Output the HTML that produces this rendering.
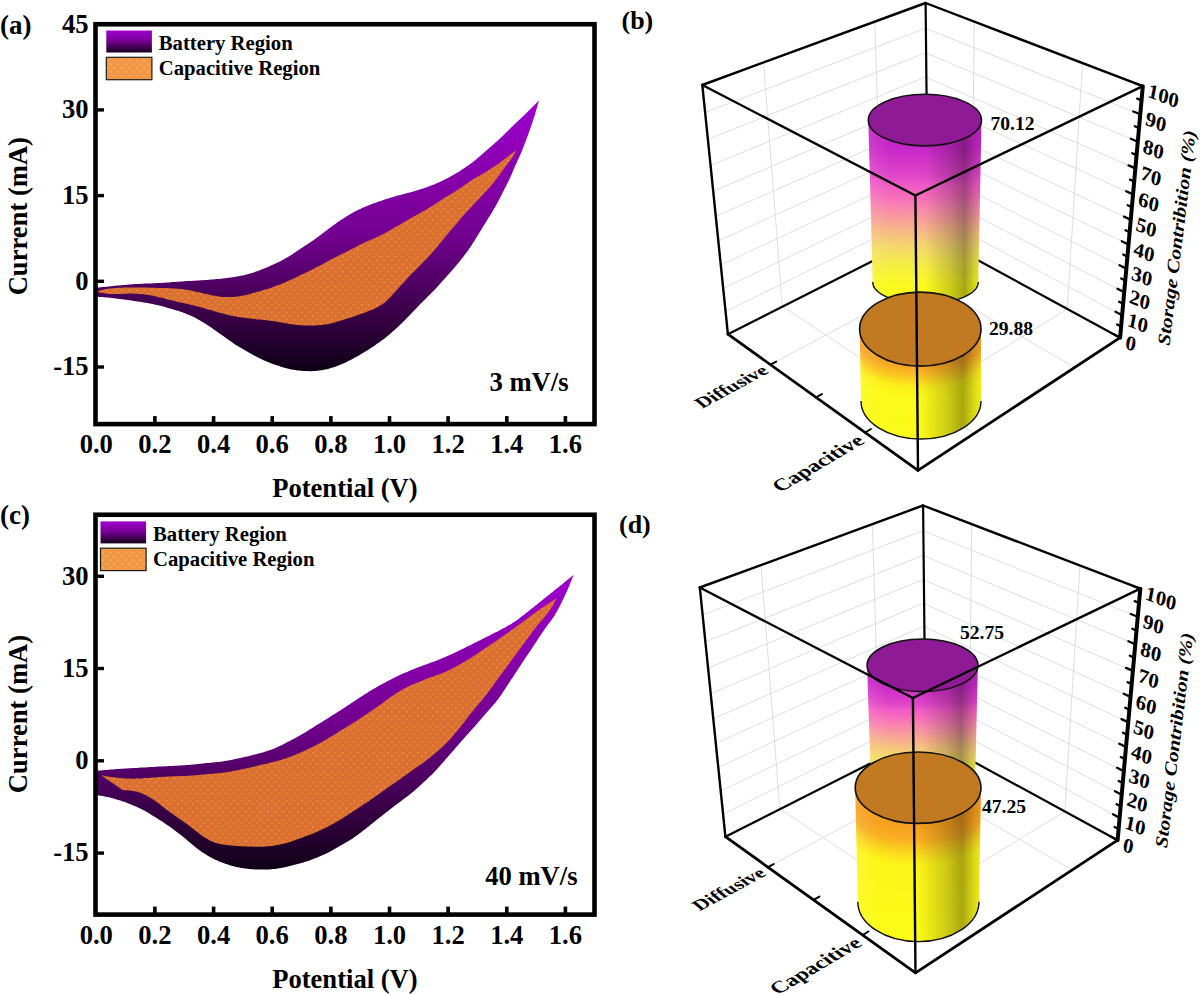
<!DOCTYPE html>
<html><head><meta charset="utf-8">
<style>
  html,body{margin:0;padding:0;background:#fff;}
  svg{display:block;}
  text{font-family:"Liberation Serif",serif;font-weight:bold;fill:#000;}
  .tk{font-size:26.6px;}
  .pl{font-size:27px;}
  .pl2{font-size:26px;}
  .lgt{font-size:20.7px;}
  .vl{font-size:19.6px;}
  .al{font-size:20.3px;}
  .at{font-size:21.2px;font-style:italic;}
  .cl{font-size:20.8px;}
</style></head><body>
<svg width="1200" height="995" viewBox="0 0 1200 995">
<rect width="1200" height="995" fill="#fff"/>

<defs>
  <linearGradient id="pga" gradientUnits="userSpaceOnUse" x1="0" y1="100" x2="0" y2="371.5">
    <stop offset="0" stop-color="#a000cf"/>
    <stop offset="0.5" stop-color="#72008f"/>
    <stop offset="0.85" stop-color="#2d0038"/>
    <stop offset="1" stop-color="#0e0016"/>
  </linearGradient>
  <linearGradient id="pgc" gradientUnits="userSpaceOnUse" x1="0" y1="575" x2="0" y2="870.5">
    <stop offset="0" stop-color="#a000cf"/>
    <stop offset="0.5" stop-color="#72008f"/>
    <stop offset="0.85" stop-color="#2d0038"/>
    <stop offset="1" stop-color="#0e0016"/>
  </linearGradient>
  <linearGradient id="lg" x1="0" y1="0" x2="0" y2="1">
    <stop offset="0" stop-color="#a000d0"/>
    <stop offset="0.45" stop-color="#7a0098"/>
    <stop offset="1" stop-color="#16001c"/>
  </linearGradient>
  <pattern id="dots" patternUnits="userSpaceOnUse" width="7.5" height="7.4">
    <circle cx="1.8" cy="1.6" r="0.75" fill="#f3bf1e" fill-opacity="0.85"/>
    <circle cx="5.55" cy="5.3" r="0.75" fill="#f3bf1e" fill-opacity="0.85"/>
  </pattern>
  <pattern id="dots2" patternUnits="userSpaceOnUse" width="7.5" height="7.4">
    <circle cx="1.8" cy="1.6" r="0.8" fill="#f7d21c" fill-opacity="0.9"/>
    <circle cx="5.55" cy="5.3" r="0.8" fill="#f7d21c" fill-opacity="0.9"/>
  </pattern>
  <linearGradient id="cyd" x1="0" y1="0" x2="0" y2="1">
    <stop offset="0" stop-color="#c826cc"/>
    <stop offset="0.22" stop-color="#e84fc4"/>
    <stop offset="0.42" stop-color="#f888b4"/>
    <stop offset="0.62" stop-color="#f8bb90"/>
    <stop offset="0.82" stop-color="#f6e45a"/>
    <stop offset="1" stop-color="#f8f828"/>
  </linearGradient>
  <linearGradient id="cyc" x1="0" y1="0" x2="0" y2="1">
    <stop offset="0" stop-color="#f89a20"/>
    <stop offset="0.25" stop-color="#f8b424"/>
    <stop offset="0.5" stop-color="#f8e628"/>
    <stop offset="1" stop-color="#f8f820"/>
  </linearGradient>
  <linearGradient id="shd" x1="0" y1="0" x2="1" y2="0">
    <stop offset="0" stop-color="#fff" stop-opacity="0.10"/>
    <stop offset="0.2" stop-color="#fff" stop-opacity="0.0"/>
    <stop offset="0.5" stop-color="#000" stop-opacity="0.0"/>
    <stop offset="0.72" stop-color="#000" stop-opacity="0.18"/>
    <stop offset="0.85" stop-color="#000" stop-opacity="0.33"/>
    <stop offset="0.95" stop-color="#000" stop-opacity="0.12"/>
    <stop offset="1" stop-color="#000" stop-opacity="0.05"/>
  </linearGradient>
</defs>
<path d="M95.0,287.8 L97.0,287.6 L99.0,287.5 L101.0,287.3 L103.0,287.1 L105.0,286.9 L107.0,286.7 L109.0,286.5 L110.9,286.2 L112.9,286.0 L114.9,285.8 L116.9,285.6 L118.9,285.4 L120.9,285.3 L122.9,285.1 L124.9,284.9 L126.9,284.7 L128.9,284.6 L130.9,284.4 L132.9,284.3 L134.9,284.1 L136.9,284.0 L138.9,283.9 L140.9,283.8 L142.9,283.7 L144.9,283.6 L146.9,283.5 L148.9,283.4 L150.9,283.4 L152.9,283.3 L154.9,283.2 L156.9,283.1 L158.9,283.0 L160.9,282.9 L162.9,282.8 L164.9,282.7 L166.9,282.5 L168.9,282.4 L170.9,282.3 L172.9,282.1 L174.9,282.0 L176.9,281.8 L178.9,281.7 L180.9,281.5 L182.9,281.4 L184.9,281.3 L186.9,281.1 L188.9,281.0 L190.9,280.9 L192.9,280.8 L194.9,280.7 L196.9,280.6 L198.9,280.4 L200.9,280.3 L202.9,280.2 L204.9,280.1 L206.9,279.9 L208.9,279.8 L210.9,279.6 L212.9,279.5 L214.9,279.3 L216.9,279.1 L218.9,278.9 L220.8,278.7 L222.8,278.5 L224.8,278.2 L226.8,278.0 L228.8,277.7 L230.8,277.5 L232.8,277.2 L234.7,276.9 L236.7,276.5 L238.7,276.2 L240.6,275.8 L242.6,275.4 L244.6,275.0 L246.5,274.5 L248.4,274.0 L250.3,273.4 L252.3,272.9 L254.2,272.2 L256.0,271.6 L257.9,270.9 L259.8,270.2 L261.7,269.5 L263.5,268.7 L265.4,268.0 L267.2,267.2 L269.1,266.4 L270.9,265.6 L272.7,264.8 L274.5,264.0 L276.4,263.1 L278.2,262.3 L280.0,261.4 L281.7,260.5 L283.5,259.5 L285.2,258.5 L287.0,257.5 L288.7,256.5 L290.4,255.4 L292.1,254.4 L293.7,253.3 L295.4,252.2 L297.1,251.0 L298.7,249.9 L300.4,248.8 L302.1,247.7 L303.8,246.6 L305.4,245.5 L307.1,244.4 L308.8,243.3 L310.5,242.2 L312.1,241.1 L313.8,240.0 L315.4,238.8 L317.0,237.6 L318.6,236.5 L320.2,235.3 L321.8,234.0 L323.4,232.8 L325.0,231.6 L326.6,230.4 L328.2,229.1 L329.8,227.9 L331.4,226.7 L333.0,225.5 L334.6,224.4 L336.2,223.2 L337.9,222.1 L339.5,220.9 L341.2,219.8 L342.9,218.7 L344.6,217.7 L346.3,216.6 L348.0,215.6 L349.7,214.5 L351.4,213.5 L353.2,212.6 L354.9,211.6 L356.7,210.7 L358.5,209.8 L360.3,208.9 L362.1,208.1 L363.9,207.3 L365.8,206.5 L367.6,205.7 L369.5,205.0 L371.4,204.3 L373.2,203.6 L375.1,202.9 L377.0,202.2 L378.9,201.6 L380.8,200.9 L382.7,200.2 L384.6,199.6 L386.5,199.0 L388.4,198.4 L390.3,197.8 L392.2,197.2 L394.2,196.7 L396.1,196.1 L398.0,195.6 L400.0,195.1 L401.9,194.6 L403.8,194.1 L405.8,193.6 L407.7,193.0 L409.6,192.5 L411.6,192.0 L413.5,191.4 L415.4,190.8 L417.3,190.3 L419.2,189.7 L421.1,189.1 L423.1,188.5 L425.0,187.8 L426.8,187.2 L428.7,186.5 L430.6,185.8 L432.5,185.1 L434.3,184.4 L436.2,183.6 L438.0,182.8 L439.8,181.9 L441.6,181.1 L443.4,180.2 L445.2,179.3 L447.0,178.4 L448.8,177.4 L450.5,176.4 L452.3,175.5 L454.0,174.5 L455.7,173.5 L457.4,172.4 L459.2,171.4 L460.9,170.3 L462.5,169.3 L464.2,168.2 L465.9,167.1 L467.5,165.9 L469.2,164.8 L470.8,163.6 L472.4,162.4 L473.9,161.1 L475.5,159.9 L477.0,158.6 L478.6,157.3 L480.1,156.0 L481.6,154.7 L483.1,153.4 L484.6,152.1 L486.1,150.7 L487.6,149.4 L489.1,148.1 L490.6,146.8 L492.2,145.5 L493.7,144.2 L495.2,142.8 L496.7,141.5 L498.2,140.2 L499.6,138.8 L501.1,137.5 L502.6,136.1 L504.0,134.7 L505.4,133.3 L506.8,131.9 L508.3,130.5 L509.7,129.0 L511.1,127.6 L512.5,126.2 L514.0,124.8 L515.4,123.5 L516.9,122.1 L518.3,120.7 L519.8,119.3 L521.3,118.0 L522.7,116.6 L524.2,115.2 L525.6,113.8 L527.0,112.4 L528.4,111.0 L529.9,109.6 L531.3,108.2 L532.7,106.7 L534.1,105.3 L535.5,103.9 L537.0,102.5 L538.4,101.1 L539.1,100.4 L539.1,100.4 L538.5,102.3 L537.9,104.2 L537.4,106.1 L536.8,108.1 L536.3,110.0 L535.7,111.9 L535.1,113.8 L534.6,115.7 L534.0,117.6 L533.4,119.5 L532.7,121.4 L532.1,123.3 L531.4,125.2 L530.8,127.1 L530.1,129.0 L529.4,130.9 L528.8,132.8 L528.1,134.7 L527.4,136.6 L526.7,138.4 L526.0,140.3 L525.3,142.2 L524.6,144.0 L523.9,145.9 L523.2,147.8 L522.4,149.6 L521.7,151.5 L520.9,153.3 L520.1,155.2 L519.3,157.0 L518.5,158.8 L517.6,160.6 L516.8,162.4 L516.0,164.3 L515.1,166.1 L514.3,167.9 L513.5,169.7 L512.8,171.6 L512.0,173.4 L511.2,175.3 L510.4,177.1 L509.5,178.9 L508.7,180.7 L507.8,182.5 L506.9,184.3 L506.0,186.1 L505.1,187.8 L504.2,189.6 L503.3,191.4 L502.4,193.2 L501.5,195.0 L500.6,196.8 L499.7,198.5 L498.7,200.3 L497.8,202.1 L496.9,203.9 L495.9,205.6 L494.9,207.4 L493.9,209.1 L492.9,210.8 L491.9,212.5 L490.8,214.2 L489.8,215.9 L488.7,217.6 L487.6,219.3 L486.6,221.0 L485.5,222.7 L484.5,224.4 L483.4,226.1 L482.4,227.8 L481.3,229.5 L480.3,231.2 L479.2,232.9 L478.2,234.6 L477.1,236.3 L476.1,238.0 L475.1,239.7 L474.0,241.4 L472.9,243.1 L471.9,244.8 L470.8,246.5 L469.6,248.1 L468.5,249.8 L467.3,251.4 L466.1,253.0 L464.9,254.6 L463.7,256.2 L462.5,257.8 L461.2,259.3 L460.0,260.9 L458.7,262.5 L457.5,264.0 L456.2,265.5 L454.9,267.1 L453.6,268.6 L452.3,270.1 L451.0,271.6 L449.7,273.1 L448.4,274.6 L447.0,276.1 L445.7,277.6 L444.4,279.1 L443.0,280.6 L441.7,282.1 L440.3,283.6 L439.0,285.0 L437.6,286.5 L436.3,288.0 L434.9,289.4 L433.5,290.9 L432.1,292.3 L430.7,293.7 L429.3,295.1 L427.9,296.5 L426.4,298.0 L425.0,299.4 L423.6,300.8 L422.2,302.2 L420.8,303.6 L419.4,305.1 L418.0,306.5 L416.6,307.9 L415.2,309.4 L413.8,310.8 L412.4,312.3 L411.1,313.7 L409.7,315.2 L408.3,316.6 L406.9,318.0 L405.5,319.5 L404.1,320.9 L402.7,322.3 L401.3,323.7 L399.8,325.1 L398.4,326.5 L396.9,327.8 L395.4,329.2 L393.9,330.5 L392.4,331.8 L390.9,333.2 L389.4,334.5 L387.9,335.7 L386.3,337.0 L384.8,338.2 L383.2,339.4 L381.6,340.6 L380.0,341.8 L378.3,343.0 L376.7,344.1 L375.1,345.3 L373.4,346.4 L371.7,347.5 L370.1,348.6 L368.4,349.7 L366.7,350.7 L365.0,351.8 L363.3,352.8 L361.6,353.8 L359.8,354.9 L358.1,355.9 L356.4,356.8 L354.6,357.8 L352.9,358.8 L351.1,359.7 L349.3,360.6 L347.5,361.5 L345.7,362.4 L343.9,363.2 L342.1,364.0 L340.2,364.8 L338.4,365.5 L336.5,366.2 L334.6,366.9 L332.7,367.5 L330.8,368.1 L328.9,368.7 L327.0,369.2 L325.0,369.6 L323.1,370.0 L321.1,370.3 L319.2,370.6 L317.2,370.8 L315.2,371.0 L313.2,371.1 L311.2,371.2 L309.2,371.2 L307.2,371.1 L305.2,371.1 L303.2,371.0 L301.2,370.8 L299.2,370.6 L297.3,370.4 L295.3,370.1 L293.3,369.8 L291.4,369.4 L289.4,369.0 L287.5,368.5 L285.5,368.0 L283.6,367.5 L281.7,366.9 L279.8,366.3 L277.9,365.7 L276.0,365.0 L274.1,364.4 L272.3,363.7 L270.4,363.0 L268.5,362.2 L266.7,361.5 L264.8,360.7 L263.0,359.9 L261.2,359.0 L259.4,358.2 L257.6,357.3 L255.9,356.3 L254.1,355.4 L252.4,354.4 L250.6,353.4 L248.9,352.4 L247.1,351.4 L245.4,350.5 L243.7,349.5 L241.9,348.5 L240.2,347.5 L238.5,346.5 L236.8,345.4 L235.1,344.4 L233.4,343.3 L231.8,342.1 L230.1,341.0 L228.5,339.8 L226.9,338.7 L225.2,337.5 L223.6,336.3 L222.0,335.2 L220.3,334.0 L218.7,332.9 L217.1,331.7 L215.4,330.6 L213.8,329.4 L212.2,328.3 L210.5,327.1 L208.9,326.0 L207.2,324.9 L205.5,323.8 L203.9,322.7 L202.2,321.7 L200.4,320.7 L198.7,319.7 L196.9,318.7 L195.2,317.8 L193.4,316.9 L191.6,316.1 L189.8,315.2 L187.9,314.4 L186.1,313.7 L184.2,313.0 L182.4,312.3 L180.5,311.7 L178.6,311.0 L176.6,310.5 L174.7,309.9 L172.8,309.3 L170.9,308.8 L169.0,308.2 L167.0,307.7 L165.1,307.1 L163.2,306.6 L161.3,306.1 L159.3,305.6 L157.4,305.1 L155.4,304.7 L153.5,304.2 L151.5,303.8 L149.6,303.5 L147.6,303.1 L145.6,302.8 L143.6,302.4 L141.7,302.1 L139.7,301.8 L137.7,301.5 L135.7,301.2 L133.8,300.9 L131.8,300.6 L129.8,300.3 L127.8,300.0 L125.8,299.8 L123.9,299.5 L121.9,299.2 L119.9,299.0 L117.9,298.7 L115.9,298.5 L113.9,298.3 L111.9,298.0 L110.0,297.8 L108.0,297.6 L106.0,297.4 L104.0,297.2 L102.0,297.1 L100.0,296.9 L98.0,296.8 L96.0,296.7 L95.0,296.6 Z" fill="url(#pga)"/>
<path d="M97.5,291.3 L99.4,290.8 L101.3,290.2 L103.3,289.7 L105.2,289.3 L107.2,288.9 L109.1,288.6 L111.1,288.4 L113.1,288.2 L115.1,288.0 L117.1,287.9 L119.1,287.8 L121.1,287.7 L123.1,287.6 L125.1,287.6 L127.1,287.6 L129.1,287.5 L131.1,287.5 L133.1,287.5 L135.1,287.5 L137.1,287.5 L139.1,287.5 L141.1,287.5 L143.1,287.6 L145.1,287.6 L147.1,287.6 L149.1,287.7 L151.1,287.7 L153.1,287.8 L155.1,287.8 L157.1,287.9 L159.1,287.9 L161.1,288.0 L163.2,288.0 L165.2,288.1 L167.2,288.1 L169.2,288.2 L171.2,288.3 L173.2,288.4 L175.2,288.5 L177.2,288.7 L179.1,288.8 L181.1,289.0 L183.1,289.3 L185.1,289.5 L187.1,289.8 L189.0,290.2 L191.0,290.6 L193.0,291.0 L194.9,291.4 L196.9,291.9 L198.8,292.3 L200.8,292.8 L202.7,293.2 L204.7,293.7 L206.6,294.1 L208.6,294.6 L210.5,295.0 L212.5,295.4 L214.5,295.8 L216.4,296.1 L218.4,296.4 L220.4,296.7 L222.4,296.9 L224.4,297.0 L226.3,297.1 L228.3,297.1 L230.3,297.1 L232.3,297.0 L234.3,296.9 L236.3,296.6 L238.3,296.4 L240.2,296.1 L242.2,295.7 L244.2,295.3 L246.1,294.9 L248.1,294.4 L250.0,293.9 L251.9,293.4 L253.9,292.8 L255.8,292.3 L257.7,291.8 L259.7,291.2 L261.6,290.7 L263.5,290.1 L265.4,289.6 L267.3,289.0 L269.2,288.4 L271.1,287.7 L273.0,287.0 L274.9,286.4 L276.8,285.6 L278.6,284.9 L280.5,284.2 L282.4,283.4 L284.2,282.7 L286.1,281.9 L287.9,281.1 L289.7,280.3 L291.6,279.5 L293.4,278.6 L295.2,277.8 L297.0,276.9 L298.8,276.0 L300.6,275.1 L302.4,274.3 L304.2,273.4 L306.0,272.5 L307.8,271.7 L309.6,270.8 L311.4,269.9 L313.2,269.0 L315.0,268.1 L316.8,267.2 L318.5,266.3 L320.3,265.3 L322.1,264.4 L323.8,263.4 L325.6,262.4 L327.3,261.5 L329.1,260.6 L330.9,259.6 L332.7,258.7 L334.5,257.8 L336.2,256.9 L338.0,256.0 L339.8,255.1 L341.6,254.2 L343.4,253.3 L345.2,252.4 L347.0,251.5 L348.8,250.6 L350.6,249.7 L352.3,248.8 L354.1,247.9 L355.9,246.9 L357.7,246.0 L359.5,245.1 L361.3,244.2 L363.1,243.3 L364.9,242.5 L366.7,241.7 L368.5,240.8 L370.4,240.0 L372.2,239.3 L374.0,238.5 L375.9,237.7 L377.7,236.8 L379.5,236.0 L381.3,235.1 L383.0,234.2 L384.8,233.2 L386.5,232.2 L388.3,231.2 L390.0,230.3 L391.8,229.3 L393.5,228.3 L395.2,227.3 L397.0,226.3 L398.7,225.2 L400.4,224.2 L402.2,223.2 L403.9,222.2 L405.6,221.2 L407.3,220.2 L409.1,219.2 L410.8,218.2 L412.6,217.2 L414.3,216.2 L416.1,215.2 L417.8,214.3 L419.6,213.3 L421.3,212.3 L423.1,211.3 L424.8,210.4 L426.5,209.4 L428.3,208.4 L430.0,207.3 L431.7,206.3 L433.4,205.2 L435.0,204.1 L436.7,203.0 L438.4,201.9 L440.1,200.8 L441.7,199.7 L443.4,198.7 L445.1,197.6 L446.9,196.6 L448.6,195.6 L450.3,194.5 L452.0,193.5 L453.7,192.4 L455.4,191.3 L457.0,190.2 L458.7,189.1 L460.4,188.0 L462.0,186.9 L463.7,185.7 L465.3,184.6 L467.0,183.5 L468.6,182.3 L470.3,181.2 L472.0,180.1 L473.6,179.0 L475.3,178.0 L477.1,177.0 L478.8,176.0 L480.5,175.0 L482.3,174.0 L484.0,173.0 L485.7,171.9 L487.4,170.9 L489.1,169.8 L490.8,168.8 L492.5,167.7 L494.2,166.6 L495.8,165.5 L497.5,164.4 L499.1,163.2 L500.7,162.0 L502.3,160.8 L503.9,159.6 L505.5,158.4 L507.1,157.2 L508.7,155.9 L510.2,154.7 L511.8,153.5 L513.4,152.2 L515.0,151.0 L516.6,149.8 L516.6,149.8 L515.7,151.6 L514.7,153.3 L513.8,155.0 L512.7,156.7 L511.6,158.3 L510.5,160.0 L509.3,161.5 L508.1,163.1 L506.8,164.7 L505.6,166.3 L504.5,167.9 L503.3,169.5 L502.1,171.2 L501.0,172.8 L499.8,174.4 L498.6,176.0 L497.4,177.6 L496.2,179.2 L495.0,180.8 L493.7,182.3 L492.5,183.9 L491.1,185.4 L489.8,186.9 L488.5,188.4 L487.2,189.9 L485.8,191.4 L484.5,192.8 L483.1,194.3 L481.8,195.8 L480.4,197.3 L479.0,198.7 L477.7,200.2 L476.3,201.6 L474.9,203.1 L473.5,204.5 L472.2,206.0 L470.8,207.4 L469.4,208.9 L468.1,210.4 L466.7,211.8 L465.4,213.3 L464.0,214.8 L462.7,216.3 L461.4,217.8 L460.1,219.3 L458.8,220.9 L457.6,222.4 L456.3,223.9 L455.0,225.5 L453.7,227.0 L452.4,228.5 L451.1,230.0 L449.8,231.5 L448.5,233.0 L447.2,234.6 L445.9,236.1 L444.6,237.6 L443.3,239.2 L442.0,240.7 L440.8,242.3 L439.5,243.8 L438.2,245.4 L437.0,246.9 L435.7,248.4 L434.4,249.9 L433.0,251.4 L431.7,252.9 L430.4,254.4 L429.1,255.9 L427.7,257.4 L426.4,258.9 L425.0,260.3 L423.6,261.8 L422.2,263.2 L420.8,264.7 L419.4,266.1 L418.0,267.5 L416.6,268.9 L415.1,270.3 L413.7,271.7 L412.3,273.1 L410.9,274.5 L409.6,276.0 L408.2,277.4 L406.8,278.9 L405.5,280.4 L404.2,281.9 L402.8,283.4 L401.5,284.8 L400.1,286.3 L398.8,287.8 L397.5,289.3 L396.1,290.8 L394.8,292.3 L393.4,293.8 L392.1,295.2 L390.8,296.7 L389.4,298.2 L388.0,299.6 L386.6,300.9 L385.1,302.2 L383.5,303.4 L381.9,304.5 L380.2,305.6 L378.5,306.6 L376.7,307.5 L375.0,308.4 L373.1,309.2 L371.3,310.0 L369.5,310.8 L367.6,311.5 L365.7,312.2 L363.9,312.9 L362.0,313.6 L360.1,314.3 L358.2,315.0 L356.3,315.6 L354.5,316.3 L352.6,316.9 L350.6,317.5 L348.7,318.1 L346.8,318.7 L344.9,319.3 L343.0,319.9 L341.1,320.5 L339.2,321.1 L337.3,321.6 L335.4,322.2 L333.4,322.7 L331.5,323.2 L329.6,323.7 L327.6,324.0 L325.7,324.4 L323.7,324.6 L321.7,324.9 L319.7,325.1 L317.7,325.2 L315.7,325.4 L313.7,325.5 L311.7,325.5 L309.8,325.6 L307.8,325.6 L305.8,325.5 L303.8,325.4 L301.8,325.3 L299.8,325.2 L297.8,325.0 L295.8,324.8 L293.8,324.5 L291.8,324.2 L289.9,323.9 L287.9,323.6 L285.9,323.3 L284.0,322.9 L282.0,322.6 L280.0,322.2 L278.0,321.9 L276.1,321.6 L274.1,321.3 L272.1,321.0 L270.1,320.8 L268.1,320.5 L266.2,320.2 L264.2,320.0 L262.2,319.8 L260.2,319.6 L258.2,319.4 L256.2,319.2 L254.2,319.0 L252.2,318.8 L250.3,318.6 L248.3,318.3 L246.3,318.1 L244.3,317.8 L242.3,317.5 L240.4,317.2 L238.4,316.9 L236.4,316.6 L234.4,316.2 L232.5,315.8 L230.5,315.4 L228.6,314.9 L226.6,314.5 L224.7,314.0 L222.8,313.5 L220.8,313.0 L218.9,312.5 L217.0,311.9 L215.0,311.4 L213.1,310.8 L211.2,310.3 L209.3,309.7 L207.4,309.2 L205.4,308.6 L203.5,308.1 L201.6,307.6 L199.7,307.0 L197.7,306.5 L195.8,306.0 L193.8,305.5 L191.9,305.1 L190.0,304.6 L188.0,304.1 L186.1,303.7 L184.1,303.2 L182.2,302.8 L180.2,302.4 L178.3,301.9 L176.3,301.5 L174.4,301.1 L172.4,300.6 L170.5,300.1 L168.5,299.7 L166.6,299.2 L164.7,298.6 L162.7,298.1 L160.8,297.6 L158.8,297.2 L156.9,296.7 L155.0,296.2 L153.0,295.8 L151.0,295.4 L149.1,295.1 L147.1,294.8 L145.1,294.5 L143.1,294.3 L141.2,294.1 L139.2,293.9 L137.2,293.8 L135.2,293.7 L133.2,293.6 L131.2,293.6 L129.2,293.6 L127.2,293.6 L125.2,293.7 L123.2,293.8 L121.2,293.9 L119.2,294.0 L117.2,294.1 L115.3,294.1 L113.3,294.1 L111.3,294.0 L109.3,293.9 L107.3,293.7 L105.3,293.5 L103.4,293.1 L101.4,292.8 L99.5,292.4 L97.5,292.0 Z" fill="#dc6f33"/>
<path d="M97.5,291.3 L99.4,290.8 L101.3,290.2 L103.3,289.7 L105.2,289.3 L107.2,288.9 L109.1,288.6 L111.1,288.4 L113.1,288.2 L115.1,288.0 L117.1,287.9 L119.1,287.8 L121.1,287.7 L123.1,287.6 L125.1,287.6 L127.1,287.6 L129.1,287.5 L131.1,287.5 L133.1,287.5 L135.1,287.5 L137.1,287.5 L139.1,287.5 L141.1,287.5 L143.1,287.6 L145.1,287.6 L147.1,287.6 L149.1,287.7 L151.1,287.7 L153.1,287.8 L155.1,287.8 L157.1,287.9 L159.1,287.9 L161.1,288.0 L163.2,288.0 L165.2,288.1 L167.2,288.1 L169.2,288.2 L171.2,288.3 L173.2,288.4 L175.2,288.5 L177.2,288.7 L179.1,288.8 L181.1,289.0 L183.1,289.3 L185.1,289.5 L187.1,289.8 L189.0,290.2 L191.0,290.6 L193.0,291.0 L194.9,291.4 L196.9,291.9 L198.8,292.3 L200.8,292.8 L202.7,293.2 L204.7,293.7 L206.6,294.1 L208.6,294.6 L210.5,295.0 L212.5,295.4 L214.5,295.8 L216.4,296.1 L218.4,296.4 L220.4,296.7 L222.4,296.9 L224.4,297.0 L226.3,297.1 L228.3,297.1 L230.3,297.1 L232.3,297.0 L234.3,296.9 L236.3,296.6 L238.3,296.4 L240.2,296.1 L242.2,295.7 L244.2,295.3 L246.1,294.9 L248.1,294.4 L250.0,293.9 L251.9,293.4 L253.9,292.8 L255.8,292.3 L257.7,291.8 L259.7,291.2 L261.6,290.7 L263.5,290.1 L265.4,289.6 L267.3,289.0 L269.2,288.4 L271.1,287.7 L273.0,287.0 L274.9,286.4 L276.8,285.6 L278.6,284.9 L280.5,284.2 L282.4,283.4 L284.2,282.7 L286.1,281.9 L287.9,281.1 L289.7,280.3 L291.6,279.5 L293.4,278.6 L295.2,277.8 L297.0,276.9 L298.8,276.0 L300.6,275.1 L302.4,274.3 L304.2,273.4 L306.0,272.5 L307.8,271.7 L309.6,270.8 L311.4,269.9 L313.2,269.0 L315.0,268.1 L316.8,267.2 L318.5,266.3 L320.3,265.3 L322.1,264.4 L323.8,263.4 L325.6,262.4 L327.3,261.5 L329.1,260.6 L330.9,259.6 L332.7,258.7 L334.5,257.8 L336.2,256.9 L338.0,256.0 L339.8,255.1 L341.6,254.2 L343.4,253.3 L345.2,252.4 L347.0,251.5 L348.8,250.6 L350.6,249.7 L352.3,248.8 L354.1,247.9 L355.9,246.9 L357.7,246.0 L359.5,245.1 L361.3,244.2 L363.1,243.3 L364.9,242.5 L366.7,241.7 L368.5,240.8 L370.4,240.0 L372.2,239.3 L374.0,238.5 L375.9,237.7 L377.7,236.8 L379.5,236.0 L381.3,235.1 L383.0,234.2 L384.8,233.2 L386.5,232.2 L388.3,231.2 L390.0,230.3 L391.8,229.3 L393.5,228.3 L395.2,227.3 L397.0,226.3 L398.7,225.2 L400.4,224.2 L402.2,223.2 L403.9,222.2 L405.6,221.2 L407.3,220.2 L409.1,219.2 L410.8,218.2 L412.6,217.2 L414.3,216.2 L416.1,215.2 L417.8,214.3 L419.6,213.3 L421.3,212.3 L423.1,211.3 L424.8,210.4 L426.5,209.4 L428.3,208.4 L430.0,207.3 L431.7,206.3 L433.4,205.2 L435.0,204.1 L436.7,203.0 L438.4,201.9 L440.1,200.8 L441.7,199.7 L443.4,198.7 L445.1,197.6 L446.9,196.6 L448.6,195.6 L450.3,194.5 L452.0,193.5 L453.7,192.4 L455.4,191.3 L457.0,190.2 L458.7,189.1 L460.4,188.0 L462.0,186.9 L463.7,185.7 L465.3,184.6 L467.0,183.5 L468.6,182.3 L470.3,181.2 L472.0,180.1 L473.6,179.0 L475.3,178.0 L477.1,177.0 L478.8,176.0 L480.5,175.0 L482.3,174.0 L484.0,173.0 L485.7,171.9 L487.4,170.9 L489.1,169.8 L490.8,168.8 L492.5,167.7 L494.2,166.6 L495.8,165.5 L497.5,164.4 L499.1,163.2 L500.7,162.0 L502.3,160.8 L503.9,159.6 L505.5,158.4 L507.1,157.2 L508.7,155.9 L510.2,154.7 L511.8,153.5 L513.4,152.2 L515.0,151.0 L516.6,149.8 L516.6,149.8 L515.7,151.6 L514.7,153.3 L513.8,155.0 L512.7,156.7 L511.6,158.3 L510.5,160.0 L509.3,161.5 L508.1,163.1 L506.8,164.7 L505.6,166.3 L504.5,167.9 L503.3,169.5 L502.1,171.2 L501.0,172.8 L499.8,174.4 L498.6,176.0 L497.4,177.6 L496.2,179.2 L495.0,180.8 L493.7,182.3 L492.5,183.9 L491.1,185.4 L489.8,186.9 L488.5,188.4 L487.2,189.9 L485.8,191.4 L484.5,192.8 L483.1,194.3 L481.8,195.8 L480.4,197.3 L479.0,198.7 L477.7,200.2 L476.3,201.6 L474.9,203.1 L473.5,204.5 L472.2,206.0 L470.8,207.4 L469.4,208.9 L468.1,210.4 L466.7,211.8 L465.4,213.3 L464.0,214.8 L462.7,216.3 L461.4,217.8 L460.1,219.3 L458.8,220.9 L457.6,222.4 L456.3,223.9 L455.0,225.5 L453.7,227.0 L452.4,228.5 L451.1,230.0 L449.8,231.5 L448.5,233.0 L447.2,234.6 L445.9,236.1 L444.6,237.6 L443.3,239.2 L442.0,240.7 L440.8,242.3 L439.5,243.8 L438.2,245.4 L437.0,246.9 L435.7,248.4 L434.4,249.9 L433.0,251.4 L431.7,252.9 L430.4,254.4 L429.1,255.9 L427.7,257.4 L426.4,258.9 L425.0,260.3 L423.6,261.8 L422.2,263.2 L420.8,264.7 L419.4,266.1 L418.0,267.5 L416.6,268.9 L415.1,270.3 L413.7,271.7 L412.3,273.1 L410.9,274.5 L409.6,276.0 L408.2,277.4 L406.8,278.9 L405.5,280.4 L404.2,281.9 L402.8,283.4 L401.5,284.8 L400.1,286.3 L398.8,287.8 L397.5,289.3 L396.1,290.8 L394.8,292.3 L393.4,293.8 L392.1,295.2 L390.8,296.7 L389.4,298.2 L388.0,299.6 L386.6,300.9 L385.1,302.2 L383.5,303.4 L381.9,304.5 L380.2,305.6 L378.5,306.6 L376.7,307.5 L375.0,308.4 L373.1,309.2 L371.3,310.0 L369.5,310.8 L367.6,311.5 L365.7,312.2 L363.9,312.9 L362.0,313.6 L360.1,314.3 L358.2,315.0 L356.3,315.6 L354.5,316.3 L352.6,316.9 L350.6,317.5 L348.7,318.1 L346.8,318.7 L344.9,319.3 L343.0,319.9 L341.1,320.5 L339.2,321.1 L337.3,321.6 L335.4,322.2 L333.4,322.7 L331.5,323.2 L329.6,323.7 L327.6,324.0 L325.7,324.4 L323.7,324.6 L321.7,324.9 L319.7,325.1 L317.7,325.2 L315.7,325.4 L313.7,325.5 L311.7,325.5 L309.8,325.6 L307.8,325.6 L305.8,325.5 L303.8,325.4 L301.8,325.3 L299.8,325.2 L297.8,325.0 L295.8,324.8 L293.8,324.5 L291.8,324.2 L289.9,323.9 L287.9,323.6 L285.9,323.3 L284.0,322.9 L282.0,322.6 L280.0,322.2 L278.0,321.9 L276.1,321.6 L274.1,321.3 L272.1,321.0 L270.1,320.8 L268.1,320.5 L266.2,320.2 L264.2,320.0 L262.2,319.8 L260.2,319.6 L258.2,319.4 L256.2,319.2 L254.2,319.0 L252.2,318.8 L250.3,318.6 L248.3,318.3 L246.3,318.1 L244.3,317.8 L242.3,317.5 L240.4,317.2 L238.4,316.9 L236.4,316.6 L234.4,316.2 L232.5,315.8 L230.5,315.4 L228.6,314.9 L226.6,314.5 L224.7,314.0 L222.8,313.5 L220.8,313.0 L218.9,312.5 L217.0,311.9 L215.0,311.4 L213.1,310.8 L211.2,310.3 L209.3,309.7 L207.4,309.2 L205.4,308.6 L203.5,308.1 L201.6,307.6 L199.7,307.0 L197.7,306.5 L195.8,306.0 L193.8,305.5 L191.9,305.1 L190.0,304.6 L188.0,304.1 L186.1,303.7 L184.1,303.2 L182.2,302.8 L180.2,302.4 L178.3,301.9 L176.3,301.5 L174.4,301.1 L172.4,300.6 L170.5,300.1 L168.5,299.7 L166.6,299.2 L164.7,298.6 L162.7,298.1 L160.8,297.6 L158.8,297.2 L156.9,296.7 L155.0,296.2 L153.0,295.8 L151.0,295.4 L149.1,295.1 L147.1,294.8 L145.1,294.5 L143.1,294.3 L141.2,294.1 L139.2,293.9 L137.2,293.8 L135.2,293.7 L133.2,293.6 L131.2,293.6 L129.2,293.6 L127.2,293.6 L125.2,293.7 L123.2,293.8 L121.2,293.9 L119.2,294.0 L117.2,294.1 L115.3,294.1 L113.3,294.1 L111.3,294.0 L109.3,293.9 L107.3,293.7 L105.3,293.5 L103.4,293.1 L101.4,292.8 L99.5,292.4 L97.5,292.0 Z" fill="url(#dots)"/>
<rect x="95.5" y="24.25" width="499.0" height="399.85" fill="none" stroke="#000" stroke-width="4.6"/>
<line x1="154.9" y1="424.1" x2="154.9" y2="416.1" stroke="#000" stroke-width="3.6"/>
<text x="154.9" y="453.1" text-anchor="middle" class="tk">0.2</text>
<line x1="213.6" y1="424.1" x2="213.6" y2="416.1" stroke="#000" stroke-width="3.6"/>
<text x="213.6" y="453.1" text-anchor="middle" class="tk">0.4</text>
<line x1="272.2" y1="424.1" x2="272.2" y2="416.1" stroke="#000" stroke-width="3.6"/>
<text x="272.2" y="453.1" text-anchor="middle" class="tk">0.6</text>
<line x1="330.9" y1="424.1" x2="330.9" y2="416.1" stroke="#000" stroke-width="3.6"/>
<text x="330.9" y="453.1" text-anchor="middle" class="tk">0.8</text>
<line x1="389.5" y1="424.1" x2="389.5" y2="416.1" stroke="#000" stroke-width="3.6"/>
<text x="389.5" y="453.1" text-anchor="middle" class="tk">1.0</text>
<line x1="448.1" y1="424.1" x2="448.1" y2="416.1" stroke="#000" stroke-width="3.6"/>
<text x="448.1" y="453.1" text-anchor="middle" class="tk">1.2</text>
<line x1="506.8" y1="424.1" x2="506.8" y2="416.1" stroke="#000" stroke-width="3.6"/>
<text x="506.8" y="453.1" text-anchor="middle" class="tk">1.4</text>
<line x1="565.4" y1="424.1" x2="565.4" y2="416.1" stroke="#000" stroke-width="3.6"/>
<text x="565.4" y="453.1" text-anchor="middle" class="tk">1.6</text>
<text x="96.3" y="453.1" text-anchor="middle" class="tk">0.0</text>
<line x1="95.5" y1="367.0" x2="104.0" y2="367.0" stroke="#000" stroke-width="3.4"/>
<text x="88.6" y="375.3" text-anchor="end" class="tk">-15</text>
<line x1="95.5" y1="281.3" x2="104.0" y2="281.3" stroke="#000" stroke-width="3.4"/>
<text x="88.6" y="289.6" text-anchor="end" class="tk">0</text>
<line x1="95.5" y1="195.6" x2="104.0" y2="195.6" stroke="#000" stroke-width="3.4"/>
<text x="88.6" y="203.9" text-anchor="end" class="tk">15</text>
<line x1="95.5" y1="109.9" x2="104.0" y2="109.9" stroke="#000" stroke-width="3.4"/>
<text x="88.6" y="118.2" text-anchor="end" class="tk">30</text>
<line x1="95.5" y1="24.2" x2="104.0" y2="24.2" stroke="#000" stroke-width="3.4"/>
<text x="88.6" y="32.5" text-anchor="end" class="tk">45</text>
<text x="344.9" y="497.3" text-anchor="middle" class="tk">Potential (V)</text>
<text transform="translate(27.0,216.2) rotate(-90)" text-anchor="middle" class="tk">Current (mA)</text>
<text x="568.5" y="391.3" text-anchor="end" class="tk">3 mV/s</text>
<text x="0" y="33.5" class="pl">(a)</text>
<rect x="106.3" y="30.5" width="45.6" height="22" fill="url(#lg)"/>
<rect x="106.3" y="57.3" width="45.6" height="22.4" fill="#f2964c"/>
<rect x="106.3" y="57.3" width="45.6" height="22.4" fill="url(#dots2)" stroke="#1a1a1a" stroke-width="1.2"/>
<text x="158.8" y="49.6" class="lgt">Battery Region</text>
<text x="158.8" y="75.4" class="lgt">Capacitive Region</text>
<path d="M95.0,770.8 L97.0,770.7 L99.0,770.5 L101.0,770.4 L103.0,770.3 L105.0,770.1 L107.0,770.0 L109.0,769.8 L111.0,769.6 L113.0,769.5 L114.9,769.3 L116.9,769.1 L118.9,769.0 L120.9,768.8 L122.9,768.7 L124.9,768.5 L126.9,768.4 L128.9,768.3 L130.9,768.2 L132.9,768.1 L134.9,768.0 L136.9,767.9 L138.9,767.7 L140.9,767.6 L142.9,767.5 L144.9,767.4 L146.9,767.3 L148.9,767.2 L150.9,767.0 L152.9,766.9 L154.9,766.8 L156.9,766.7 L158.9,766.6 L160.9,766.5 L162.9,766.4 L164.9,766.3 L166.9,766.2 L168.9,766.1 L170.9,766.0 L172.9,765.9 L174.9,765.8 L176.9,765.7 L178.9,765.6 L180.9,765.4 L182.9,765.3 L184.8,765.2 L186.8,765.1 L188.8,764.9 L190.8,764.8 L192.8,764.6 L194.8,764.4 L196.8,764.1 L198.8,763.9 L200.8,763.7 L202.8,763.5 L204.7,763.3 L206.7,763.1 L208.7,762.9 L210.7,762.7 L212.7,762.5 L214.7,762.3 L216.7,762.1 L218.7,761.9 L220.7,761.7 L222.6,761.4 L224.6,761.1 L226.6,760.8 L228.6,760.4 L230.5,760.1 L232.5,759.7 L234.4,759.3 L236.4,758.8 L238.3,758.4 L240.3,758.0 L242.3,757.6 L244.2,757.1 L246.2,756.7 L248.1,756.3 L250.1,755.8 L252.0,755.3 L253.9,754.8 L255.9,754.3 L257.8,753.8 L259.7,753.3 L261.7,752.7 L263.6,752.2 L265.5,751.6 L267.4,751.0 L269.3,750.3 L271.2,749.7 L273.0,748.9 L274.9,748.2 L276.7,747.4 L278.5,746.6 L280.3,745.7 L282.1,744.9 L283.9,744.0 L285.7,743.1 L287.5,742.1 L289.3,741.2 L291.0,740.3 L292.8,739.3 L294.5,738.4 L296.3,737.4 L298.0,736.4 L299.8,735.4 L301.5,734.4 L303.2,733.4 L305.0,732.4 L306.7,731.4 L308.4,730.3 L310.1,729.3 L311.8,728.2 L313.5,727.2 L315.2,726.1 L316.9,725.0 L318.6,724.0 L320.3,722.9 L322.0,721.9 L323.7,720.8 L325.4,719.8 L327.1,718.7 L328.8,717.7 L330.5,716.6 L332.1,715.5 L333.8,714.5 L335.5,713.4 L337.2,712.3 L338.9,711.3 L340.6,710.2 L342.3,709.1 L344.0,708.0 L345.6,706.9 L347.3,705.8 L349.0,704.7 L350.6,703.6 L352.3,702.5 L354.0,701.4 L355.6,700.3 L357.3,699.2 L359.0,698.1 L360.6,697.0 L362.3,695.9 L364.0,694.8 L365.7,693.7 L367.4,692.7 L369.1,691.6 L370.8,690.6 L372.5,689.6 L374.3,688.6 L376.0,687.6 L377.7,686.6 L379.5,685.6 L381.2,684.6 L383.0,683.7 L384.7,682.7 L386.5,681.8 L388.3,680.8 L390.0,679.9 L391.8,679.0 L393.6,678.1 L395.4,677.2 L397.2,676.3 L399.0,675.5 L400.8,674.6 L402.6,673.8 L404.5,673.0 L406.3,672.2 L408.1,671.4 L410.0,670.6 L411.8,669.9 L413.7,669.1 L415.5,668.4 L417.4,667.6 L419.3,666.9 L421.1,666.2 L423.0,665.5 L424.9,664.8 L426.8,664.2 L428.7,663.5 L430.5,662.8 L432.4,662.1 L434.3,661.4 L436.2,660.7 L438.0,660.0 L439.9,659.2 L441.7,658.5 L443.6,657.7 L445.4,656.9 L447.2,656.1 L449.1,655.3 L450.9,654.5 L452.7,653.7 L454.5,652.8 L456.3,652.0 L458.1,651.1 L459.9,650.2 L461.7,649.3 L463.5,648.4 L465.3,647.5 L467.1,646.6 L468.9,645.8 L470.7,644.9 L472.5,644.0 L474.3,643.1 L476.0,642.2 L477.8,641.3 L479.6,640.4 L481.4,639.5 L483.2,638.6 L485.0,637.7 L486.8,636.8 L488.6,635.9 L490.4,635.0 L492.1,634.1 L493.9,633.2 L495.7,632.3 L497.5,631.4 L499.3,630.5 L501.0,629.6 L502.8,628.6 L504.6,627.7 L506.3,626.7 L508.1,625.7 L509.8,624.7 L511.5,623.7 L513.2,622.6 L514.9,621.5 L516.5,620.4 L518.1,619.2 L519.7,618.1 L521.3,616.8 L522.9,615.6 L524.5,614.4 L526.0,613.1 L527.6,611.9 L529.2,610.6 L530.7,609.4 L532.3,608.1 L533.9,606.9 L535.4,605.6 L537.0,604.4 L538.5,603.1 L540.1,601.9 L541.7,600.6 L543.2,599.4 L544.8,598.1 L546.3,596.9 L547.9,595.6 L549.5,594.4 L551.0,593.1 L552.6,591.9 L554.2,590.6 L555.7,589.4 L557.3,588.1 L558.8,586.9 L560.4,585.6 L562.0,584.4 L563.5,583.1 L565.1,581.8 L566.6,580.6 L568.2,579.3 L569.7,578.1 L571.3,576.8 L572.8,575.5 L573.6,574.9 L573.6,574.9 L572.9,576.8 L572.1,578.6 L571.4,580.5 L570.6,582.3 L569.9,584.2 L569.1,586.0 L568.3,587.9 L567.6,589.7 L566.8,591.6 L565.9,593.4 L565.1,595.2 L564.2,597.0 L563.4,598.8 L562.5,600.6 L561.6,602.4 L560.7,604.2 L559.8,606.0 L558.9,607.8 L558.0,609.5 L557.0,611.3 L556.0,613.0 L555.0,614.7 L554.0,616.4 L552.8,618.0 L551.7,619.7 L550.5,621.3 L549.3,622.8 L548.1,624.5 L546.9,626.1 L545.8,627.7 L544.6,629.3 L543.5,631.0 L542.4,632.6 L541.2,634.3 L540.1,636.0 L539.0,637.6 L537.9,639.3 L536.8,641.0 L535.7,642.6 L534.6,644.3 L533.5,646.0 L532.4,647.6 L531.3,649.3 L530.2,651.0 L529.1,652.6 L528.0,654.3 L526.8,656.0 L525.7,657.6 L524.6,659.3 L523.5,661.0 L522.4,662.6 L521.3,664.3 L520.2,666.0 L519.1,667.6 L518.0,669.3 L516.9,671.0 L515.8,672.6 L514.7,674.3 L513.6,676.0 L512.5,677.7 L511.4,679.3 L510.3,681.0 L509.2,682.7 L508.1,684.3 L507.0,686.0 L505.9,687.7 L504.8,689.4 L503.7,691.0 L502.5,692.7 L501.4,694.4 L500.3,696.0 L499.2,697.6 L498.0,699.2 L496.8,700.8 L495.5,702.4 L494.2,703.9 L492.9,705.4 L491.6,706.9 L490.3,708.4 L488.9,709.9 L487.6,711.4 L486.3,712.9 L485.0,714.4 L483.7,715.9 L482.4,717.4 L481.1,719.0 L479.8,720.5 L478.5,722.0 L477.2,723.5 L475.9,725.0 L474.6,726.6 L473.2,728.1 L471.9,729.5 L470.6,731.0 L469.2,732.5 L467.9,734.0 L466.5,735.5 L465.2,737.0 L463.9,738.5 L462.5,740.0 L461.2,741.5 L459.9,743.0 L458.6,744.5 L457.3,746.0 L456.0,747.5 L454.7,749.0 L453.4,750.6 L452.1,752.1 L450.8,753.6 L449.4,755.1 L448.1,756.6 L446.8,758.1 L445.5,759.6 L444.2,761.1 L442.8,762.6 L441.5,764.1 L440.2,765.6 L438.9,767.1 L437.6,768.6 L436.2,770.1 L434.8,771.5 L433.4,773.0 L432.0,774.4 L430.6,775.8 L429.1,777.1 L427.7,778.5 L426.2,779.9 L424.8,781.3 L423.3,782.6 L421.8,784.0 L420.3,785.3 L418.9,786.7 L417.4,788.0 L415.9,789.3 L414.4,790.7 L412.8,792.0 L411.3,793.2 L409.7,794.5 L408.2,795.7 L406.6,796.9 L405.0,798.1 L403.4,799.3 L401.8,800.5 L400.2,801.7 L398.6,802.9 L397.0,804.1 L395.4,805.3 L393.8,806.5 L392.2,807.7 L390.6,808.9 L389.0,810.2 L387.4,811.4 L385.8,812.6 L384.3,813.9 L382.7,815.1 L381.1,816.4 L379.6,817.6 L378.0,818.9 L376.4,820.1 L374.9,821.4 L373.3,822.6 L371.8,823.9 L370.2,825.1 L368.6,826.4 L367.1,827.6 L365.5,828.9 L363.9,830.1 L362.4,831.3 L360.8,832.6 L359.2,833.8 L357.6,835.0 L356.0,836.1 L354.3,837.3 L352.7,838.4 L351.0,839.5 L349.3,840.5 L347.6,841.6 L345.9,842.6 L344.2,843.6 L342.4,844.6 L340.7,845.6 L338.9,846.6 L337.2,847.6 L335.5,848.6 L333.7,849.6 L332.0,850.5 L330.2,851.5 L328.4,852.4 L326.6,853.3 L324.8,854.2 L323.0,855.0 L321.2,855.8 L319.4,856.6 L317.5,857.4 L315.7,858.1 L313.8,858.8 L311.9,859.6 L310.1,860.2 L308.2,860.9 L306.3,861.5 L304.4,862.1 L302.5,862.7 L300.5,863.3 L298.6,863.8 L296.7,864.3 L294.7,864.8 L292.8,865.3 L290.9,865.8 L288.9,866.3 L287.0,866.7 L285.0,867.2 L283.1,867.6 L281.1,868.0 L279.1,868.3 L277.2,868.6 L275.2,868.9 L273.2,869.1 L271.2,869.2 L269.2,869.4 L267.2,869.4 L265.2,869.5 L263.2,869.5 L261.2,869.5 L259.2,869.5 L257.2,869.5 L255.2,869.4 L253.2,869.3 L251.2,869.2 L249.2,869.0 L247.2,868.8 L245.3,868.6 L243.3,868.3 L241.3,868.0 L239.4,867.6 L237.4,867.2 L235.4,866.8 L233.5,866.3 L231.6,865.7 L229.7,865.2 L227.8,864.6 L225.9,863.9 L224.0,863.3 L222.1,862.6 L220.3,861.9 L218.4,861.1 L216.6,860.3 L214.8,859.4 L213.0,858.6 L211.2,857.6 L209.5,856.7 L207.7,855.7 L206.0,854.6 L204.3,853.6 L202.7,852.5 L201.0,851.3 L199.4,850.2 L197.8,849.0 L196.2,847.8 L194.7,846.5 L193.1,845.3 L191.6,844.0 L190.1,842.7 L188.5,841.4 L187.0,840.1 L185.5,838.8 L183.9,837.5 L182.4,836.3 L180.8,835.0 L179.2,833.8 L177.6,832.6 L176.1,831.4 L174.5,830.2 L172.9,829.0 L171.2,827.8 L169.6,826.6 L168.0,825.5 L166.3,824.4 L164.6,823.2 L163.0,822.1 L161.3,821.0 L159.6,820.0 L157.9,818.9 L156.2,817.8 L154.6,816.7 L152.8,815.7 L151.1,814.7 L149.4,813.6 L147.7,812.6 L146.0,811.6 L144.2,810.6 L142.5,809.7 L140.7,808.8 L138.9,807.9 L137.1,807.0 L135.3,806.2 L133.4,805.4 L131.6,804.7 L129.7,803.9 L127.9,803.2 L126.0,802.5 L124.1,801.8 L122.2,801.2 L120.3,800.5 L118.4,799.9 L116.5,799.4 L114.6,798.8 L112.7,798.3 L110.7,797.8 L108.8,797.3 L106.8,796.9 L104.9,796.5 L102.9,796.1 L100.9,795.8 L99.0,795.6 L97.0,795.3 L95.0,795.1 Z" fill="url(#pgc)"/>
<path d="M101.6,775.5 L103.6,775.8 L105.6,776.1 L107.5,776.5 L109.5,776.8 L111.5,777.1 L113.5,777.3 L115.4,777.6 L117.4,777.8 L119.4,778.0 L121.4,778.2 L123.4,778.4 L125.4,778.5 L127.4,778.6 L129.4,778.7 L131.4,778.7 L133.4,778.7 L135.4,778.7 L137.4,778.6 L139.4,778.5 L141.4,778.4 L143.4,778.3 L145.4,778.1 L147.4,778.0 L149.4,777.8 L151.4,777.7 L153.4,777.5 L155.4,777.4 L157.4,777.2 L159.3,777.1 L161.3,777.0 L163.3,776.8 L165.3,776.7 L167.3,776.6 L169.3,776.5 L171.3,776.4 L173.3,776.3 L175.3,776.2 L177.3,776.2 L179.3,776.1 L181.3,776.0 L183.3,776.0 L185.3,775.9 L187.3,775.8 L189.3,775.7 L191.3,775.5 L193.3,775.4 L195.3,775.2 L197.3,775.1 L199.3,774.9 L201.3,774.7 L203.3,774.5 L205.3,774.3 L207.3,774.2 L209.3,774.0 L211.3,773.8 L213.3,773.7 L215.3,773.5 L217.3,773.3 L219.3,773.1 L221.2,772.9 L223.2,772.6 L225.2,772.4 L227.2,772.1 L229.2,771.7 L231.1,771.4 L233.1,771.1 L235.1,770.7 L237.0,770.3 L239.0,769.9 L241.0,769.5 L242.9,769.1 L244.9,768.7 L246.8,768.3 L248.8,767.8 L250.7,767.4 L252.7,766.9 L254.6,766.5 L256.6,766.0 L258.5,765.6 L260.5,765.1 L262.4,764.6 L264.4,764.2 L266.3,763.7 L268.3,763.2 L270.2,762.8 L272.2,762.3 L274.1,761.8 L276.0,761.3 L278.0,760.8 L279.9,760.3 L281.8,759.7 L283.7,759.1 L285.6,758.4 L287.5,757.8 L289.4,757.1 L291.2,756.4 L293.1,755.7 L295.0,754.9 L296.8,754.1 L298.7,753.4 L300.5,752.6 L302.3,751.7 L304.1,750.9 L306.0,750.1 L307.8,749.2 L309.6,748.4 L311.4,747.5 L313.2,746.6 L315.0,745.7 L316.7,744.8 L318.5,743.8 L320.2,742.9 L322.0,741.9 L323.7,740.9 L325.4,739.9 L327.2,738.9 L328.9,737.8 L330.6,736.8 L332.3,735.8 L334.0,734.7 L335.7,733.7 L337.5,732.7 L339.2,731.6 L340.9,730.6 L342.6,729.5 L344.3,728.5 L346.0,727.4 L347.7,726.4 L349.4,725.3 L351.1,724.3 L352.8,723.2 L354.5,722.1 L356.2,721.0 L357.9,720.0 L359.5,718.9 L361.2,717.8 L362.9,716.7 L364.6,715.6 L366.2,714.5 L367.9,713.3 L369.5,712.2 L371.2,711.1 L372.8,709.9 L374.5,708.8 L376.1,707.6 L377.7,706.5 L379.4,705.3 L381.0,704.2 L382.6,703.0 L384.2,701.8 L385.9,700.6 L387.5,699.5 L389.1,698.3 L390.7,697.1 L392.4,696.0 L394.0,694.8 L395.7,693.7 L397.4,692.6 L399.1,691.6 L400.8,690.6 L402.5,689.6 L404.3,688.6 L406.0,687.7 L407.8,686.8 L409.6,685.9 L411.4,685.1 L413.3,684.3 L415.1,683.5 L416.9,682.7 L418.8,681.9 L420.7,681.2 L422.5,680.5 L424.4,679.7 L426.2,679.0 L428.1,678.3 L430.0,677.6 L431.9,676.9 L433.8,676.3 L435.7,675.6 L437.5,674.9 L439.4,674.2 L441.3,673.5 L443.1,672.8 L445.0,672.0 L446.8,671.2 L448.6,670.4 L450.4,669.5 L452.2,668.6 L454.0,667.7 L455.7,666.7 L457.5,665.7 L459.2,664.8 L461.0,663.8 L462.7,662.8 L464.4,661.8 L466.1,660.8 L467.9,659.7 L469.6,658.7 L471.3,657.6 L472.9,656.5 L474.6,655.4 L476.3,654.3 L477.9,653.2 L479.6,652.1 L481.3,651.0 L482.9,649.8 L484.6,648.7 L486.2,647.6 L487.9,646.5 L489.6,645.4 L491.2,644.3 L492.9,643.1 L494.5,642.0 L496.2,640.9 L497.8,639.7 L499.5,638.6 L501.1,637.5 L502.8,636.3 L504.4,635.2 L506.1,634.0 L507.7,632.9 L509.3,631.7 L511.0,630.6 L512.6,629.4 L514.2,628.2 L515.8,627.0 L517.4,625.8 L519.0,624.7 L520.7,623.5 L522.3,622.3 L523.9,621.1 L525.5,619.9 L527.1,618.7 L528.7,617.5 L530.3,616.3 L531.9,615.1 L533.5,613.9 L535.1,612.7 L536.7,611.6 L538.4,610.4 L540.0,609.3 L541.7,608.1 L543.3,607.0 L545.0,605.9 L546.7,604.8 L548.3,603.7 L550.0,602.6 L551.7,601.5 L553.4,600.4 L555.0,599.3 L556.7,598.2 L556.7,598.2 L555.8,600.0 L554.8,601.7 L553.8,603.5 L552.8,605.2 L551.8,606.9 L550.8,608.6 L549.7,610.3 L548.6,611.9 L547.4,613.5 L546.2,615.1 L544.9,616.7 L543.6,618.2 L542.3,619.7 L541.0,621.2 L539.7,622.7 L538.4,624.2 L537.1,625.8 L535.9,627.3 L534.7,628.9 L533.5,630.5 L532.3,632.1 L531.1,633.7 L529.9,635.3 L528.7,636.9 L527.5,638.5 L526.3,640.1 L525.1,641.8 L523.9,643.4 L522.8,645.0 L521.6,646.6 L520.4,648.2 L519.2,649.8 L518.0,651.4 L516.8,653.1 L515.7,654.7 L514.5,656.3 L513.3,657.9 L512.1,659.5 L510.9,661.1 L509.7,662.7 L508.6,664.3 L507.4,666.0 L506.2,667.6 L505.0,669.2 L503.8,670.8 L502.6,672.4 L501.5,674.0 L500.3,675.6 L499.1,677.3 L497.9,678.9 L496.7,680.5 L495.5,682.1 L494.3,683.7 L493.2,685.3 L492.0,686.9 L490.8,688.5 L489.6,690.2 L488.4,691.8 L487.2,693.4 L486.0,695.0 L484.8,696.6 L483.6,698.1 L482.3,699.7 L481.0,701.2 L479.7,702.7 L478.4,704.2 L477.1,705.7 L475.8,707.3 L474.5,708.8 L473.3,710.4 L472.0,711.9 L470.8,713.5 L469.6,715.1 L468.3,716.6 L467.1,718.2 L465.9,719.8 L464.7,721.4 L463.4,723.0 L462.2,724.5 L461.0,726.1 L459.7,727.7 L458.4,729.2 L457.2,730.8 L455.9,732.3 L454.6,733.8 L453.3,735.4 L452.0,736.9 L450.7,738.4 L449.3,739.9 L448.0,741.3 L446.6,742.8 L445.2,744.2 L443.8,745.6 L442.3,747.0 L440.8,748.3 L439.4,749.6 L437.9,751.0 L436.3,752.3 L434.8,753.6 L433.3,754.8 L431.7,756.1 L430.2,757.4 L428.6,758.6 L427.0,759.8 L425.4,761.0 L423.8,762.2 L422.2,763.4 L420.5,764.5 L418.9,765.7 L417.3,766.8 L415.6,768.0 L414.0,769.1 L412.4,770.3 L410.7,771.4 L409.1,772.6 L407.5,773.8 L405.9,774.9 L404.2,776.1 L402.6,777.3 L401.0,778.4 L399.3,779.6 L397.7,780.7 L396.1,781.9 L394.4,783.0 L392.8,784.2 L391.1,785.3 L389.5,786.5 L387.9,787.6 L386.2,788.8 L384.6,789.9 L382.9,791.1 L381.3,792.2 L379.7,793.4 L378.0,794.5 L376.4,795.7 L374.8,796.8 L373.1,798.0 L371.5,799.1 L369.8,800.2 L368.2,801.4 L366.5,802.5 L364.9,803.6 L363.2,804.7 L361.5,805.9 L359.9,807.0 L358.2,808.1 L356.5,809.2 L354.9,810.2 L353.2,811.3 L351.5,812.4 L349.8,813.5 L348.1,814.6 L346.5,815.7 L344.8,816.8 L343.1,817.9 L341.4,818.9 L339.7,819.9 L338.0,821.0 L336.2,822.0 L334.5,823.0 L332.8,824.0 L331.0,824.9 L329.2,825.8 L327.5,826.8 L325.7,827.7 L323.9,828.6 L322.1,829.4 L320.3,830.3 L318.4,831.1 L316.6,831.9 L314.8,832.7 L312.9,833.5 L311.1,834.2 L309.2,834.9 L307.3,835.6 L305.5,836.3 L303.6,837.0 L301.7,837.7 L299.8,838.4 L298.0,839.1 L296.1,839.8 L294.2,840.5 L292.3,841.1 L290.4,841.8 L288.5,842.3 L286.6,842.9 L284.7,843.4 L282.7,843.9 L280.8,844.3 L278.8,844.7 L276.9,845.1 L274.9,845.4 L272.9,845.7 L270.9,846.0 L268.9,846.2 L267.0,846.4 L265.0,846.6 L263.0,846.7 L261.0,846.8 L259.0,846.8 L257.0,846.8 L255.0,846.7 L253.0,846.7 L251.0,846.6 L249.0,846.6 L247.0,846.5 L245.0,846.4 L243.0,846.3 L241.0,846.2 L239.0,846.1 L237.0,845.9 L235.0,845.8 L233.0,845.6 L231.0,845.4 L229.0,845.2 L227.0,845.0 L225.1,844.8 L223.1,844.5 L221.1,844.2 L219.2,843.8 L217.2,843.3 L215.4,842.7 L213.5,842.1 L211.7,841.4 L209.9,840.5 L208.1,839.6 L206.4,838.6 L204.7,837.5 L203.1,836.4 L201.5,835.3 L199.9,834.1 L198.3,832.9 L196.7,831.6 L195.1,830.4 L193.6,829.1 L192.0,827.9 L190.4,826.7 L188.8,825.5 L187.2,824.3 L185.6,823.1 L184.0,821.9 L182.3,820.8 L180.7,819.7 L179.0,818.5 L177.4,817.4 L175.7,816.3 L174.1,815.1 L172.5,814.0 L170.8,812.8 L169.2,811.6 L167.7,810.4 L166.1,809.2 L164.5,807.9 L162.9,806.7 L161.3,805.5 L159.7,804.3 L158.1,803.1 L156.5,801.9 L154.9,800.7 L153.3,799.6 L151.6,798.5 L149.9,797.4 L148.2,796.4 L146.5,795.5 L144.7,794.6 L142.9,793.7 L141.0,793.0 L139.2,792.4 L137.3,791.8 L135.4,791.4 L133.4,791.0 L131.4,790.7 L129.5,790.5 L127.5,790.3 L125.5,790.2 L123.5,790.1 L122.5,790.0 Z" fill="#dc6f33"/>
<path d="M101.6,775.5 L103.6,775.8 L105.6,776.1 L107.5,776.5 L109.5,776.8 L111.5,777.1 L113.5,777.3 L115.4,777.6 L117.4,777.8 L119.4,778.0 L121.4,778.2 L123.4,778.4 L125.4,778.5 L127.4,778.6 L129.4,778.7 L131.4,778.7 L133.4,778.7 L135.4,778.7 L137.4,778.6 L139.4,778.5 L141.4,778.4 L143.4,778.3 L145.4,778.1 L147.4,778.0 L149.4,777.8 L151.4,777.7 L153.4,777.5 L155.4,777.4 L157.4,777.2 L159.3,777.1 L161.3,777.0 L163.3,776.8 L165.3,776.7 L167.3,776.6 L169.3,776.5 L171.3,776.4 L173.3,776.3 L175.3,776.2 L177.3,776.2 L179.3,776.1 L181.3,776.0 L183.3,776.0 L185.3,775.9 L187.3,775.8 L189.3,775.7 L191.3,775.5 L193.3,775.4 L195.3,775.2 L197.3,775.1 L199.3,774.9 L201.3,774.7 L203.3,774.5 L205.3,774.3 L207.3,774.2 L209.3,774.0 L211.3,773.8 L213.3,773.7 L215.3,773.5 L217.3,773.3 L219.3,773.1 L221.2,772.9 L223.2,772.6 L225.2,772.4 L227.2,772.1 L229.2,771.7 L231.1,771.4 L233.1,771.1 L235.1,770.7 L237.0,770.3 L239.0,769.9 L241.0,769.5 L242.9,769.1 L244.9,768.7 L246.8,768.3 L248.8,767.8 L250.7,767.4 L252.7,766.9 L254.6,766.5 L256.6,766.0 L258.5,765.6 L260.5,765.1 L262.4,764.6 L264.4,764.2 L266.3,763.7 L268.3,763.2 L270.2,762.8 L272.2,762.3 L274.1,761.8 L276.0,761.3 L278.0,760.8 L279.9,760.3 L281.8,759.7 L283.7,759.1 L285.6,758.4 L287.5,757.8 L289.4,757.1 L291.2,756.4 L293.1,755.7 L295.0,754.9 L296.8,754.1 L298.7,753.4 L300.5,752.6 L302.3,751.7 L304.1,750.9 L306.0,750.1 L307.8,749.2 L309.6,748.4 L311.4,747.5 L313.2,746.6 L315.0,745.7 L316.7,744.8 L318.5,743.8 L320.2,742.9 L322.0,741.9 L323.7,740.9 L325.4,739.9 L327.2,738.9 L328.9,737.8 L330.6,736.8 L332.3,735.8 L334.0,734.7 L335.7,733.7 L337.5,732.7 L339.2,731.6 L340.9,730.6 L342.6,729.5 L344.3,728.5 L346.0,727.4 L347.7,726.4 L349.4,725.3 L351.1,724.3 L352.8,723.2 L354.5,722.1 L356.2,721.0 L357.9,720.0 L359.5,718.9 L361.2,717.8 L362.9,716.7 L364.6,715.6 L366.2,714.5 L367.9,713.3 L369.5,712.2 L371.2,711.1 L372.8,709.9 L374.5,708.8 L376.1,707.6 L377.7,706.5 L379.4,705.3 L381.0,704.2 L382.6,703.0 L384.2,701.8 L385.9,700.6 L387.5,699.5 L389.1,698.3 L390.7,697.1 L392.4,696.0 L394.0,694.8 L395.7,693.7 L397.4,692.6 L399.1,691.6 L400.8,690.6 L402.5,689.6 L404.3,688.6 L406.0,687.7 L407.8,686.8 L409.6,685.9 L411.4,685.1 L413.3,684.3 L415.1,683.5 L416.9,682.7 L418.8,681.9 L420.7,681.2 L422.5,680.5 L424.4,679.7 L426.2,679.0 L428.1,678.3 L430.0,677.6 L431.9,676.9 L433.8,676.3 L435.7,675.6 L437.5,674.9 L439.4,674.2 L441.3,673.5 L443.1,672.8 L445.0,672.0 L446.8,671.2 L448.6,670.4 L450.4,669.5 L452.2,668.6 L454.0,667.7 L455.7,666.7 L457.5,665.7 L459.2,664.8 L461.0,663.8 L462.7,662.8 L464.4,661.8 L466.1,660.8 L467.9,659.7 L469.6,658.7 L471.3,657.6 L472.9,656.5 L474.6,655.4 L476.3,654.3 L477.9,653.2 L479.6,652.1 L481.3,651.0 L482.9,649.8 L484.6,648.7 L486.2,647.6 L487.9,646.5 L489.6,645.4 L491.2,644.3 L492.9,643.1 L494.5,642.0 L496.2,640.9 L497.8,639.7 L499.5,638.6 L501.1,637.5 L502.8,636.3 L504.4,635.2 L506.1,634.0 L507.7,632.9 L509.3,631.7 L511.0,630.6 L512.6,629.4 L514.2,628.2 L515.8,627.0 L517.4,625.8 L519.0,624.7 L520.7,623.5 L522.3,622.3 L523.9,621.1 L525.5,619.9 L527.1,618.7 L528.7,617.5 L530.3,616.3 L531.9,615.1 L533.5,613.9 L535.1,612.7 L536.7,611.6 L538.4,610.4 L540.0,609.3 L541.7,608.1 L543.3,607.0 L545.0,605.9 L546.7,604.8 L548.3,603.7 L550.0,602.6 L551.7,601.5 L553.4,600.4 L555.0,599.3 L556.7,598.2 L556.7,598.2 L555.8,600.0 L554.8,601.7 L553.8,603.5 L552.8,605.2 L551.8,606.9 L550.8,608.6 L549.7,610.3 L548.6,611.9 L547.4,613.5 L546.2,615.1 L544.9,616.7 L543.6,618.2 L542.3,619.7 L541.0,621.2 L539.7,622.7 L538.4,624.2 L537.1,625.8 L535.9,627.3 L534.7,628.9 L533.5,630.5 L532.3,632.1 L531.1,633.7 L529.9,635.3 L528.7,636.9 L527.5,638.5 L526.3,640.1 L525.1,641.8 L523.9,643.4 L522.8,645.0 L521.6,646.6 L520.4,648.2 L519.2,649.8 L518.0,651.4 L516.8,653.1 L515.7,654.7 L514.5,656.3 L513.3,657.9 L512.1,659.5 L510.9,661.1 L509.7,662.7 L508.6,664.3 L507.4,666.0 L506.2,667.6 L505.0,669.2 L503.8,670.8 L502.6,672.4 L501.5,674.0 L500.3,675.6 L499.1,677.3 L497.9,678.9 L496.7,680.5 L495.5,682.1 L494.3,683.7 L493.2,685.3 L492.0,686.9 L490.8,688.5 L489.6,690.2 L488.4,691.8 L487.2,693.4 L486.0,695.0 L484.8,696.6 L483.6,698.1 L482.3,699.7 L481.0,701.2 L479.7,702.7 L478.4,704.2 L477.1,705.7 L475.8,707.3 L474.5,708.8 L473.3,710.4 L472.0,711.9 L470.8,713.5 L469.6,715.1 L468.3,716.6 L467.1,718.2 L465.9,719.8 L464.7,721.4 L463.4,723.0 L462.2,724.5 L461.0,726.1 L459.7,727.7 L458.4,729.2 L457.2,730.8 L455.9,732.3 L454.6,733.8 L453.3,735.4 L452.0,736.9 L450.7,738.4 L449.3,739.9 L448.0,741.3 L446.6,742.8 L445.2,744.2 L443.8,745.6 L442.3,747.0 L440.8,748.3 L439.4,749.6 L437.9,751.0 L436.3,752.3 L434.8,753.6 L433.3,754.8 L431.7,756.1 L430.2,757.4 L428.6,758.6 L427.0,759.8 L425.4,761.0 L423.8,762.2 L422.2,763.4 L420.5,764.5 L418.9,765.7 L417.3,766.8 L415.6,768.0 L414.0,769.1 L412.4,770.3 L410.7,771.4 L409.1,772.6 L407.5,773.8 L405.9,774.9 L404.2,776.1 L402.6,777.3 L401.0,778.4 L399.3,779.6 L397.7,780.7 L396.1,781.9 L394.4,783.0 L392.8,784.2 L391.1,785.3 L389.5,786.5 L387.9,787.6 L386.2,788.8 L384.6,789.9 L382.9,791.1 L381.3,792.2 L379.7,793.4 L378.0,794.5 L376.4,795.7 L374.8,796.8 L373.1,798.0 L371.5,799.1 L369.8,800.2 L368.2,801.4 L366.5,802.5 L364.9,803.6 L363.2,804.7 L361.5,805.9 L359.9,807.0 L358.2,808.1 L356.5,809.2 L354.9,810.2 L353.2,811.3 L351.5,812.4 L349.8,813.5 L348.1,814.6 L346.5,815.7 L344.8,816.8 L343.1,817.9 L341.4,818.9 L339.7,819.9 L338.0,821.0 L336.2,822.0 L334.5,823.0 L332.8,824.0 L331.0,824.9 L329.2,825.8 L327.5,826.8 L325.7,827.7 L323.9,828.6 L322.1,829.4 L320.3,830.3 L318.4,831.1 L316.6,831.9 L314.8,832.7 L312.9,833.5 L311.1,834.2 L309.2,834.9 L307.3,835.6 L305.5,836.3 L303.6,837.0 L301.7,837.7 L299.8,838.4 L298.0,839.1 L296.1,839.8 L294.2,840.5 L292.3,841.1 L290.4,841.8 L288.5,842.3 L286.6,842.9 L284.7,843.4 L282.7,843.9 L280.8,844.3 L278.8,844.7 L276.9,845.1 L274.9,845.4 L272.9,845.7 L270.9,846.0 L268.9,846.2 L267.0,846.4 L265.0,846.6 L263.0,846.7 L261.0,846.8 L259.0,846.8 L257.0,846.8 L255.0,846.7 L253.0,846.7 L251.0,846.6 L249.0,846.6 L247.0,846.5 L245.0,846.4 L243.0,846.3 L241.0,846.2 L239.0,846.1 L237.0,845.9 L235.0,845.8 L233.0,845.6 L231.0,845.4 L229.0,845.2 L227.0,845.0 L225.1,844.8 L223.1,844.5 L221.1,844.2 L219.2,843.8 L217.2,843.3 L215.4,842.7 L213.5,842.1 L211.7,841.4 L209.9,840.5 L208.1,839.6 L206.4,838.6 L204.7,837.5 L203.1,836.4 L201.5,835.3 L199.9,834.1 L198.3,832.9 L196.7,831.6 L195.1,830.4 L193.6,829.1 L192.0,827.9 L190.4,826.7 L188.8,825.5 L187.2,824.3 L185.6,823.1 L184.0,821.9 L182.3,820.8 L180.7,819.7 L179.0,818.5 L177.4,817.4 L175.7,816.3 L174.1,815.1 L172.5,814.0 L170.8,812.8 L169.2,811.6 L167.7,810.4 L166.1,809.2 L164.5,807.9 L162.9,806.7 L161.3,805.5 L159.7,804.3 L158.1,803.1 L156.5,801.9 L154.9,800.7 L153.3,799.6 L151.6,798.5 L149.9,797.4 L148.2,796.4 L146.5,795.5 L144.7,794.6 L142.9,793.7 L141.0,793.0 L139.2,792.4 L137.3,791.8 L135.4,791.4 L133.4,791.0 L131.4,790.7 L129.5,790.5 L127.5,790.3 L125.5,790.2 L123.5,790.1 L122.5,790.0 Z" fill="url(#dots)"/>
<rect x="95.5" y="514.75" width="499.0" height="399.85" fill="none" stroke="#000" stroke-width="4.6"/>
<line x1="154.9" y1="914.6" x2="154.9" y2="906.6" stroke="#000" stroke-width="3.6"/>
<text x="154.9" y="943.6" text-anchor="middle" class="tk">0.2</text>
<line x1="213.6" y1="914.6" x2="213.6" y2="906.6" stroke="#000" stroke-width="3.6"/>
<text x="213.6" y="943.6" text-anchor="middle" class="tk">0.4</text>
<line x1="272.2" y1="914.6" x2="272.2" y2="906.6" stroke="#000" stroke-width="3.6"/>
<text x="272.2" y="943.6" text-anchor="middle" class="tk">0.6</text>
<line x1="330.9" y1="914.6" x2="330.9" y2="906.6" stroke="#000" stroke-width="3.6"/>
<text x="330.9" y="943.6" text-anchor="middle" class="tk">0.8</text>
<line x1="389.5" y1="914.6" x2="389.5" y2="906.6" stroke="#000" stroke-width="3.6"/>
<text x="389.5" y="943.6" text-anchor="middle" class="tk">1.0</text>
<line x1="448.1" y1="914.6" x2="448.1" y2="906.6" stroke="#000" stroke-width="3.6"/>
<text x="448.1" y="943.6" text-anchor="middle" class="tk">1.2</text>
<line x1="506.8" y1="914.6" x2="506.8" y2="906.6" stroke="#000" stroke-width="3.6"/>
<text x="506.8" y="943.6" text-anchor="middle" class="tk">1.4</text>
<line x1="565.4" y1="914.6" x2="565.4" y2="906.6" stroke="#000" stroke-width="3.6"/>
<text x="565.4" y="943.6" text-anchor="middle" class="tk">1.6</text>
<text x="96.3" y="943.6" text-anchor="middle" class="tk">0.0</text>
<line x1="95.5" y1="853.1" x2="104.0" y2="853.1" stroke="#000" stroke-width="3.4"/>
<text x="88.6" y="861.4" text-anchor="end" class="tk">-15</text>
<line x1="95.5" y1="760.8" x2="104.0" y2="760.8" stroke="#000" stroke-width="3.4"/>
<text x="88.6" y="769.1" text-anchor="end" class="tk">0</text>
<line x1="95.5" y1="668.5" x2="104.0" y2="668.5" stroke="#000" stroke-width="3.4"/>
<text x="88.6" y="676.8" text-anchor="end" class="tk">15</text>
<line x1="95.5" y1="576.3" x2="104.0" y2="576.3" stroke="#000" stroke-width="3.4"/>
<text x="88.6" y="584.6" text-anchor="end" class="tk">30</text>
<text x="344.9" y="987.8" text-anchor="middle" class="tk">Potential (V)</text>
<text transform="translate(27.0,714.0) rotate(-90)" text-anchor="middle" class="tk">Current (mA)</text>
<text x="577.5" y="885.0" text-anchor="end" class="tk">40 mV/s</text>
<text x="0" y="524.0" class="pl">(c)</text>
<rect x="100.5" y="521.4" width="45.6" height="22" fill="url(#lg)"/>
<rect x="100.5" y="548.2" width="45.6" height="22.4" fill="#f2964c"/>
<rect x="100.5" y="548.2" width="45.6" height="22.4" fill="url(#dots2)" stroke="#1a1a1a" stroke-width="1.2"/>
<text x="153.0" y="540.5" class="lgt">Battery Region</text>
<text x="153.0" y="566.3" class="lgt">Capacitive Region</text>
<line x1="725.6" y1="311.6" x2="927.8" y2="211.9" stroke="#d9d9d9" stroke-width="0.90" stroke-linecap="round"/>
<line x1="927.8" y1="212.2" x2="1122.1" y2="315.2" stroke="#d9d9d9" stroke-width="0.90" stroke-linecap="round"/>
<line x1="723.2" y1="288.5" x2="927.6" y2="190.4" stroke="#d9d9d9" stroke-width="0.90" stroke-linecap="round"/>
<line x1="927.6" y1="190.9" x2="1124.2" y2="292.2" stroke="#d9d9d9" stroke-width="0.90" stroke-linecap="round"/>
<line x1="720.8" y1="265.0" x2="927.3" y2="168.5" stroke="#d9d9d9" stroke-width="0.90" stroke-linecap="round"/>
<line x1="927.3" y1="169.1" x2="1126.3" y2="268.7" stroke="#d9d9d9" stroke-width="0.90" stroke-linecap="round"/>
<line x1="718.3" y1="240.9" x2="927.1" y2="146.2" stroke="#d9d9d9" stroke-width="0.90" stroke-linecap="round"/>
<line x1="927.1" y1="146.9" x2="1128.5" y2="244.5" stroke="#d9d9d9" stroke-width="0.90" stroke-linecap="round"/>
<line x1="715.8" y1="216.3" x2="926.9" y2="123.5" stroke="#d9d9d9" stroke-width="0.90" stroke-linecap="round"/>
<line x1="926.9" y1="124.2" x2="1130.7" y2="219.8" stroke="#d9d9d9" stroke-width="0.90" stroke-linecap="round"/>
<line x1="713.2" y1="191.2" x2="926.6" y2="100.4" stroke="#d9d9d9" stroke-width="0.90" stroke-linecap="round"/>
<line x1="926.6" y1="101.1" x2="1133.0" y2="194.4" stroke="#d9d9d9" stroke-width="0.90" stroke-linecap="round"/>
<line x1="710.6" y1="165.5" x2="926.4" y2="76.7" stroke="#d9d9d9" stroke-width="0.90" stroke-linecap="round"/>
<line x1="926.4" y1="77.4" x2="1135.4" y2="168.4" stroke="#d9d9d9" stroke-width="0.90" stroke-linecap="round"/>
<line x1="707.9" y1="139.3" x2="926.1" y2="52.6" stroke="#d9d9d9" stroke-width="0.90" stroke-linecap="round"/>
<line x1="926.1" y1="53.1" x2="1137.8" y2="141.7" stroke="#d9d9d9" stroke-width="0.90" stroke-linecap="round"/>
<line x1="705.1" y1="112.5" x2="925.9" y2="28.1" stroke="#d9d9d9" stroke-width="0.90" stroke-linecap="round"/>
<line x1="925.9" y1="28.4" x2="1140.3" y2="114.3" stroke="#d9d9d9" stroke-width="0.90" stroke-linecap="round"/>
<line x1="782.3" y1="306.7" x2="763.5" y2="62.5" stroke="#d9d9d9" stroke-width="0.90" stroke-linecap="round"/>
<line x1="971.6" y1="256.8" x2="974.3" y2="21.6" stroke="#d9d9d9" stroke-width="0.90" stroke-linecap="round"/>
<line x1="770.5" y1="364.7" x2="971.6" y2="256.8" stroke="#d9d9d9" stroke-width="0.90" stroke-linecap="round"/>
<line x1="782.7" y1="306.5" x2="974.0" y2="433.5" stroke="#d9d9d9" stroke-width="0.90" stroke-linecap="round"/>
<line x1="882.1" y1="256.2" x2="874.9" y2="21.6" stroke="#d9d9d9" stroke-width="0.90" stroke-linecap="round"/>
<line x1="1067.3" y1="308.9" x2="1082.5" y2="63.1" stroke="#d9d9d9" stroke-width="0.90" stroke-linecap="round"/>
<line x1="865.2" y1="432.5" x2="1067.4" y2="309.0" stroke="#d9d9d9" stroke-width="0.90" stroke-linecap="round"/>
<line x1="882.4" y1="256.0" x2="1074.7" y2="367.5" stroke="#d9d9d9" stroke-width="0.90" stroke-linecap="round"/>
<line x1="925.6" y1="3.0" x2="928.0" y2="233.0" stroke="#000" stroke-width="2.20" stroke-linecap="round"/>
<line x1="727.9" y1="334.2" x2="928.0" y2="233.0" stroke="#000" stroke-width="2.20" stroke-linecap="round"/>
<line x1="928.0" y1="233.0" x2="1120.1" y2="337.7" stroke="#000" stroke-width="2.20" stroke-linecap="round"/>
<mask id="cyl1" maskUnits="userSpaceOnUse" x="0" y="0" width="1200" height="995"><path d="M868.3,120.1 L872.7,282.0 A52.8,22.0 0 0 0 978.3,282.0 L981.5,120.1 A56.6,25.8 0 0 1 868.3,120.1 Z" fill="#fff"/></mask>
<g mask="url(#cyl1)">
<path d="M866.80,120.10 A58.10,3.87 0 0 0 983.00,120.10 L979.80,283.50 A54.30,23.50 0 0 1 871.20,283.50 Z" fill="rgb(193,33,200)"/>
<path d="M866.85,121.90 A58.06,3.86 0 0 0 982.96,121.90 L979.80,283.50 A54.30,23.50 0 0 1 871.20,283.50 Z" fill="rgb(194,34,200)"/>
<path d="M866.90,123.70 A58.02,3.86 0 0 0 982.93,123.70 L979.80,283.50 A54.30,23.50 0 0 1 871.20,283.50 Z" fill="rgb(194,34,200)"/>
<path d="M866.95,125.50 A57.97,3.85 0 0 0 982.89,125.50 L979.80,283.50 A54.30,23.50 0 0 1 871.20,283.50 Z" fill="rgb(195,35,200)"/>
<path d="M867.00,127.30 A57.93,3.84 0 0 0 982.86,127.30 L979.80,283.50 A54.30,23.50 0 0 1 871.20,283.50 Z" fill="rgb(195,35,200)"/>
<path d="M867.04,129.09 A57.89,3.84 0 0 0 982.82,129.09 L979.80,283.50 A54.30,23.50 0 0 1 871.20,283.50 Z" fill="rgb(196,36,200)"/>
<path d="M867.09,130.89 A57.85,3.83 0 0 0 982.79,130.89 L979.80,283.50 A54.30,23.50 0 0 1 871.20,283.50 Z" fill="rgb(196,36,200)"/>
<path d="M867.14,132.69 A57.80,3.83 0 0 0 982.75,132.69 L979.80,283.50 A54.30,23.50 0 0 1 871.20,283.50 Z" fill="rgb(197,37,200)"/>
<path d="M867.19,134.49 A57.76,3.82 0 0 0 982.72,134.49 L979.80,283.50 A54.30,23.50 0 0 1 871.20,283.50 Z" fill="rgb(197,37,200)"/>
<path d="M867.24,136.29 A57.72,3.81 0 0 0 982.68,136.29 L979.80,283.50 A54.30,23.50 0 0 1 871.20,283.50 Z" fill="rgb(198,38,200)"/>
<path d="M867.29,138.09 A57.68,3.81 0 0 0 982.64,138.09 L979.80,283.50 A54.30,23.50 0 0 1 871.20,283.50 Z" fill="rgb(198,38,200)"/>
<path d="M867.34,139.89 A57.64,3.80 0 0 0 982.61,139.89 L979.80,283.50 A54.30,23.50 0 0 1 871.20,283.50 Z" fill="rgb(199,39,200)"/>
<path d="M867.39,141.69 A57.59,3.79 0 0 0 982.57,141.69 L979.80,283.50 A54.30,23.50 0 0 1 871.20,283.50 Z" fill="rgb(199,39,200)"/>
<path d="M867.44,143.49 A57.55,3.79 0 0 0 982.54,143.49 L979.80,283.50 A54.30,23.50 0 0 1 871.20,283.50 Z" fill="rgb(200,40,200)"/>
<path d="M867.48,145.28 A57.51,3.78 0 0 0 982.50,145.28 L979.80,283.50 A54.30,23.50 0 0 1 871.20,283.50 Z" fill="rgb(201,42,200)"/>
<path d="M867.53,147.08 A57.47,3.77 0 0 0 982.47,147.08 L979.80,283.50 A54.30,23.50 0 0 1 871.20,283.50 Z" fill="rgb(203,43,200)"/>
<path d="M867.58,148.88 A57.42,3.77 0 0 0 982.43,148.88 L979.80,283.50 A54.30,23.50 0 0 1 871.20,283.50 Z" fill="rgb(204,45,200)"/>
<path d="M867.63,150.68 A57.38,3.76 0 0 0 982.40,150.68 L979.80,283.50 A54.30,23.50 0 0 1 871.20,283.50 Z" fill="rgb(206,47,200)"/>
<path d="M867.68,152.48 A57.34,3.76 0 0 0 982.36,152.48 L979.80,283.50 A54.30,23.50 0 0 1 871.20,283.50 Z" fill="rgb(207,49,200)"/>
<path d="M867.73,154.28 A57.30,3.75 0 0 0 982.32,154.28 L979.80,283.50 A54.30,23.50 0 0 1 871.20,283.50 Z" fill="rgb(209,51,200)"/>
<path d="M867.78,156.08 A57.26,3.74 0 0 0 982.29,156.08 L979.80,283.50 A54.30,23.50 0 0 1 871.20,283.50 Z" fill="rgb(211,53,200)"/>
<path d="M867.83,157.88 A57.21,3.74 0 0 0 982.25,157.88 L979.80,283.50 A54.30,23.50 0 0 1 871.20,283.50 Z" fill="rgb(212,55,200)"/>
<path d="M867.88,159.68 A57.17,3.73 0 0 0 982.22,159.68 L979.80,283.50 A54.30,23.50 0 0 1 871.20,283.50 Z" fill="rgb(214,57,200)"/>
<path d="M867.92,161.47 A57.13,3.72 0 0 0 982.18,161.47 L979.80,283.50 A54.30,23.50 0 0 1 871.20,283.50 Z" fill="rgb(215,59,200)"/>
<path d="M867.97,163.27 A57.09,3.72 0 0 0 982.15,163.27 L979.80,283.50 A54.30,23.50 0 0 1 871.20,283.50 Z" fill="rgb(217,61,200)"/>
<path d="M868.02,165.07 A57.04,3.71 0 0 0 982.11,165.07 L979.80,283.50 A54.30,23.50 0 0 1 871.20,283.50 Z" fill="rgb(218,63,200)"/>
<path d="M868.07,166.87 A57.00,3.71 0 0 0 982.08,166.87 L979.80,283.50 A54.30,23.50 0 0 1 871.20,283.50 Z" fill="rgb(220,65,200)"/>
<path d="M868.12,168.67 A56.96,3.70 0 0 0 982.04,168.67 L979.80,283.50 A54.30,23.50 0 0 1 871.20,283.50 Z" fill="rgb(221,67,200)"/>
<path d="M868.17,170.47 A56.92,3.69 0 0 0 982.00,170.47 L979.80,283.50 A54.30,23.50 0 0 1 871.20,283.50 Z" fill="rgb(223,69,200)"/>
<path d="M868.22,172.27 A56.88,3.69 0 0 0 981.97,172.27 L979.80,283.50 A54.30,23.50 0 0 1 871.20,283.50 Z" fill="rgb(225,71,200)"/>
<path d="M868.27,174.07 A56.83,3.68 0 0 0 981.93,174.07 L979.80,283.50 A54.30,23.50 0 0 1 871.20,283.50 Z" fill="rgb(228,75,200)"/>
<path d="M868.32,175.87 A56.79,3.67 0 0 0 981.90,175.87 L979.80,283.50 A54.30,23.50 0 0 1 871.20,283.50 Z" fill="rgb(231,79,200)"/>
<path d="M868.36,177.66 A56.75,3.67 0 0 0 981.86,177.66 L979.80,283.50 A54.30,23.50 0 0 1 871.20,283.50 Z" fill="rgb(235,83,200)"/>
<path d="M868.41,179.46 A56.71,3.66 0 0 0 981.83,179.46 L979.80,283.50 A54.30,23.50 0 0 1 871.20,283.50 Z" fill="rgb(238,87,200)"/>
<path d="M868.46,181.26 A56.66,3.65 0 0 0 981.79,181.26 L979.80,283.50 A54.30,23.50 0 0 1 871.20,283.50 Z" fill="rgb(240,91,199)"/>
<path d="M868.51,183.06 A56.62,3.65 0 0 0 981.76,183.06 L979.80,283.50 A54.30,23.50 0 0 1 871.20,283.50 Z" fill="rgb(241,93,197)"/>
<path d="M868.56,184.86 A56.58,3.64 0 0 0 981.72,184.86 L979.80,283.50 A54.30,23.50 0 0 1 871.20,283.50 Z" fill="rgb(242,96,195)"/>
<path d="M868.61,186.66 A56.54,3.64 0 0 0 981.68,186.66 L979.80,283.50 A54.30,23.50 0 0 1 871.20,283.50 Z" fill="rgb(243,99,192)"/>
<path d="M868.66,188.46 A56.50,3.63 0 0 0 981.65,188.46 L979.80,283.50 A54.30,23.50 0 0 1 871.20,283.50 Z" fill="rgb(244,102,190)"/>
<path d="M868.71,190.26 A56.45,3.62 0 0 0 981.61,190.26 L979.80,283.50 A54.30,23.50 0 0 1 871.20,283.50 Z" fill="rgb(245,104,188)"/>
<path d="M868.76,192.06 A56.41,3.62 0 0 0 981.58,192.06 L979.80,283.50 A54.30,23.50 0 0 1 871.20,283.50 Z" fill="rgb(246,108,186)"/>
<path d="M868.80,193.85 A56.37,3.61 0 0 0 981.54,193.85 L979.80,283.50 A54.30,23.50 0 0 1 871.20,283.50 Z" fill="rgb(246,112,185)"/>
<path d="M868.85,195.65 A56.33,3.60 0 0 0 981.51,195.65 L979.80,283.50 A54.30,23.50 0 0 1 871.20,283.50 Z" fill="rgb(247,116,184)"/>
<path d="M868.90,197.45 A56.28,3.60 0 0 0 981.47,197.45 L979.80,283.50 A54.30,23.50 0 0 1 871.20,283.50 Z" fill="rgb(247,120,182)"/>
<path d="M868.95,199.25 A56.24,3.59 0 0 0 981.44,199.25 L979.80,283.50 A54.30,23.50 0 0 1 871.20,283.50 Z" fill="rgb(248,124,181)"/>
<path d="M869.00,201.05 A56.20,3.58 0 0 0 981.40,201.05 L979.80,283.50 A54.30,23.50 0 0 1 871.20,283.50 Z" fill="rgb(248,128,179)"/>
<path d="M869.05,202.85 A56.16,3.58 0 0 0 981.36,202.85 L979.80,283.50 A54.30,23.50 0 0 1 871.20,283.50 Z" fill="rgb(248,132,175)"/>
<path d="M869.10,204.65 A56.12,3.57 0 0 0 981.33,204.65 L979.80,283.50 A54.30,23.50 0 0 1 871.20,283.50 Z" fill="rgb(248,136,172)"/>
<path d="M869.15,206.45 A56.07,3.57 0 0 0 981.29,206.45 L979.80,283.50 A54.30,23.50 0 0 1 871.20,283.50 Z" fill="rgb(248,140,169)"/>
<path d="M869.20,208.25 A56.03,3.56 0 0 0 981.26,208.25 L979.80,283.50 A54.30,23.50 0 0 1 871.20,283.50 Z" fill="rgb(248,143,166)"/>
<path d="M869.24,210.04 A55.99,3.55 0 0 0 981.22,210.04 L979.80,283.50 A54.30,23.50 0 0 1 871.20,283.50 Z" fill="rgb(248,147,163)"/>
<path d="M869.29,211.84 A55.95,3.55 0 0 0 981.19,211.84 L979.80,283.50 A54.30,23.50 0 0 1 871.20,283.50 Z" fill="rgb(248,151,160)"/>
<path d="M869.34,213.64 A55.90,3.54 0 0 0 981.15,213.64 L979.80,283.50 A54.30,23.50 0 0 1 871.20,283.50 Z" fill="rgb(248,155,157)"/>
<path d="M869.39,215.44 A55.86,3.53 0 0 0 981.12,215.44 L979.80,283.50 A54.30,23.50 0 0 1 871.20,283.50 Z" fill="rgb(248,159,154)"/>
<path d="M869.44,217.24 A55.82,3.53 0 0 0 981.08,217.24 L979.80,283.50 A54.30,23.50 0 0 1 871.20,283.50 Z" fill="rgb(248,163,151)"/>
<path d="M869.49,219.04 A55.78,3.52 0 0 0 981.04,219.04 L979.80,283.50 A54.30,23.50 0 0 1 871.20,283.50 Z" fill="rgb(248,167,148)"/>
<path d="M869.54,220.84 A55.74,3.52 0 0 0 981.01,220.84 L979.80,283.50 A54.30,23.50 0 0 1 871.20,283.50 Z" fill="rgb(248,171,145)"/>
<path d="M869.59,222.64 A55.69,3.51 0 0 0 980.97,222.64 L979.80,283.50 A54.30,23.50 0 0 1 871.20,283.50 Z" fill="rgb(247,175,142)"/>
<path d="M869.64,224.44 A55.65,3.50 0 0 0 980.94,224.44 L979.80,283.50 A54.30,23.50 0 0 1 871.20,283.50 Z" fill="rgb(247,179,139)"/>
<path d="M869.68,226.23 A55.61,3.50 0 0 0 980.90,226.23 L979.80,283.50 A54.30,23.50 0 0 1 871.20,283.50 Z" fill="rgb(247,182,135)"/>
<path d="M869.73,228.03 A55.57,3.49 0 0 0 980.87,228.03 L979.80,283.50 A54.30,23.50 0 0 1 871.20,283.50 Z" fill="rgb(246,186,132)"/>
<path d="M869.78,229.83 A55.52,3.48 0 0 0 980.83,229.83 L979.80,283.50 A54.30,23.50 0 0 1 871.20,283.50 Z" fill="rgb(246,190,129)"/>
<path d="M869.83,231.63 A55.48,3.48 0 0 0 980.80,231.63 L979.80,283.50 A54.30,23.50 0 0 1 871.20,283.50 Z" fill="rgb(246,194,126)"/>
<path d="M869.88,233.43 A55.44,3.47 0 0 0 980.76,233.43 L979.80,283.50 A54.30,23.50 0 0 1 871.20,283.50 Z" fill="rgb(246,197,124)"/>
<path d="M869.93,235.23 A55.40,3.46 0 0 0 980.72,235.23 L979.80,283.50 A54.30,23.50 0 0 1 871.20,283.50 Z" fill="rgb(246,201,121)"/>
<path d="M869.98,237.03 A55.36,3.46 0 0 0 980.69,237.03 L979.80,283.50 A54.30,23.50 0 0 1 871.20,283.50 Z" fill="rgb(246,204,118)"/>
<path d="M870.03,238.83 A55.31,3.45 0 0 0 980.65,238.83 L979.80,283.50 A54.30,23.50 0 0 1 871.20,283.50 Z" fill="rgb(245,207,115)"/>
<path d="M870.08,240.63 A55.27,3.45 0 0 0 980.62,240.63 L979.80,283.50 A54.30,23.50 0 0 1 871.20,283.50 Z" fill="rgb(245,211,113)"/>
<path d="M870.12,242.42 A55.23,3.44 0 0 0 980.58,242.42 L979.80,283.50 A54.30,23.50 0 0 1 871.20,283.50 Z" fill="rgb(245,214,110)"/>
<path d="M870.17,244.22 A55.19,3.43 0 0 0 980.55,244.22 L979.80,283.50 A54.30,23.50 0 0 1 871.20,283.50 Z" fill="rgb(245,217,107)"/>
<path d="M870.22,246.02 A55.14,3.43 0 0 0 980.51,246.02 L979.80,283.50 A54.30,23.50 0 0 1 871.20,283.50 Z" fill="rgb(245,219,103)"/>
<path d="M870.27,247.82 A55.10,3.42 0 0 0 980.48,247.82 L979.80,283.50 A54.30,23.50 0 0 1 871.20,283.50 Z" fill="rgb(245,221,99)"/>
<path d="M870.32,249.62 A55.06,3.41 0 0 0 980.44,249.62 L979.80,283.50 A54.30,23.50 0 0 1 871.20,283.50 Z" fill="rgb(245,223,95)"/>
<path d="M870.37,251.42 A55.02,3.41 0 0 0 980.40,251.42 L979.80,283.50 A54.30,23.50 0 0 1 871.20,283.50 Z" fill="rgb(245,225,91)"/>
<path d="M870.42,253.22 A54.98,3.40 0 0 0 980.37,253.22 L979.80,283.50 A54.30,23.50 0 0 1 871.20,283.50 Z" fill="rgb(245,228,87)"/>
<path d="M870.47,255.02 A54.93,3.40 0 0 0 980.33,255.02 L979.80,283.50 A54.30,23.50 0 0 1 871.20,283.50 Z" fill="rgb(245,230,83)"/>
<path d="M870.52,256.82 A54.89,3.39 0 0 0 980.30,256.82 L979.80,283.50 A54.30,23.50 0 0 1 871.20,283.50 Z" fill="rgb(245,232,79)"/>
<path d="M870.56,258.61 A54.85,3.38 0 0 0 980.26,258.61 L979.80,283.50 A54.30,23.50 0 0 1 871.20,283.50 Z" fill="rgb(245,234,75)"/>
<path d="M870.61,260.41 A54.81,3.38 0 0 0 980.23,260.41 L979.80,283.50 A54.30,23.50 0 0 1 871.20,283.50 Z" fill="rgb(245,236,71)"/>
<path d="M870.66,262.21 A54.76,3.37 0 0 0 980.19,262.21 L979.80,283.50 A54.30,23.50 0 0 1 871.20,283.50 Z" fill="rgb(245,238,68)"/>
<path d="M870.71,264.01 A54.72,3.36 0 0 0 980.16,264.01 L979.80,283.50 A54.30,23.50 0 0 1 871.20,283.50 Z" fill="rgb(245,239,64)"/>
<path d="M870.76,265.81 A54.68,3.36 0 0 0 980.12,265.81 L979.80,283.50 A54.30,23.50 0 0 1 871.20,283.50 Z" fill="rgb(246,240,61)"/>
<path d="M870.81,267.61 A54.64,3.35 0 0 0 980.08,267.61 L979.80,283.50 A54.30,23.50 0 0 1 871.20,283.50 Z" fill="rgb(246,241,58)"/>
<path d="M870.86,269.41 A54.60,3.34 0 0 0 980.05,269.41 L979.80,283.50 A54.30,23.50 0 0 1 871.20,283.50 Z" fill="rgb(247,242,54)"/>
<path d="M870.91,271.21 A54.55,3.34 0 0 0 980.01,271.21 L979.80,283.50 A54.30,23.50 0 0 1 871.20,283.50 Z" fill="rgb(247,243,51)"/>
<path d="M870.96,273.01 A54.51,3.33 0 0 0 979.98,273.01 L979.80,283.50 A54.30,23.50 0 0 1 871.20,283.50 Z" fill="rgb(248,244,47)"/>
<path d="M871.00,274.80 A54.47,3.33 0 0 0 979.94,274.80 L979.80,283.50 A54.30,23.50 0 0 1 871.20,283.50 Z" fill="rgb(248,246,44)"/>
<path d="M871.05,276.60 A54.43,3.32 0 0 0 979.91,276.60 L979.80,283.50 A54.30,23.50 0 0 1 871.20,283.50 Z" fill="rgb(249,247,41)"/>
<path d="M871.10,278.40 A54.38,3.31 0 0 0 979.87,278.40 L979.80,283.50 A54.30,23.50 0 0 1 871.20,283.50 Z" fill="rgb(249,248,37)"/>
<path d="M871.15,280.20 A54.34,3.31 0 0 0 979.84,280.20 L979.80,283.50 A54.30,23.50 0 0 1 871.20,283.50 Z" fill="rgb(249,249,34)"/>
<path d="M871.20,282.00 A54.30,3.30 0 0 0 979.80,282.00 L979.80,283.50 A54.30,23.50 0 0 1 871.20,283.50 Z" fill="rgb(250,250,31)"/>
</g>
<path d="M868.3,120.1 L872.7,282.0 A52.8,22.0 0 0 0 978.3,282.0 L981.5,120.1 A56.6,25.8 0 0 1 868.3,120.1 Z" fill="url(#shd)"/>
<path d="M872.7,282.0 A52.8,22.0 0 0 0 978.3,282.0" fill="none" stroke="#111" stroke-width="1.4"/>
<ellipse cx="924.9" cy="120.1" rx="56.6" ry="25.8" fill="#8f1a95" stroke="#111" stroke-width="1.6"/>
<mask id="cyl2" maskUnits="userSpaceOnUse" x="0" y="0" width="1200" height="995"><path d="M859.6,329.1 L861.0,401.0 A60.0,38.0 0 0 0 981.0,401.0 L981.0,329.1 A60.7,37.0 0 0 1 859.6,329.1 Z" fill="#fff"/></mask>
<g mask="url(#cyl2)">
<path d="M858.10,329.10 A62.20,24.05 0 0 0 982.50,329.10 L982.50,402.50 A61.50,39.50 0 0 1 859.50,402.50 Z" fill="rgb(247,161,38)"/>
<path d="M858.12,329.90 A62.19,24.06 0 0 0 982.50,329.90 L982.50,402.50 A61.50,39.50 0 0 1 859.50,402.50 Z" fill="rgb(247,161,38)"/>
<path d="M858.13,330.70 A62.18,24.06 0 0 0 982.50,330.70 L982.50,402.50 A61.50,39.50 0 0 1 859.50,402.50 Z" fill="rgb(247,162,38)"/>
<path d="M858.15,331.50 A62.18,24.07 0 0 0 982.50,331.50 L982.50,402.50 A61.50,39.50 0 0 1 859.50,402.50 Z" fill="rgb(247,162,38)"/>
<path d="M858.16,332.30 A62.17,24.08 0 0 0 982.50,332.30 L982.50,402.50 A61.50,39.50 0 0 1 859.50,402.50 Z" fill="rgb(247,162,38)"/>
<path d="M858.18,333.09 A62.16,24.09 0 0 0 982.50,333.09 L982.50,402.50 A61.50,39.50 0 0 1 859.50,402.50 Z" fill="rgb(247,162,39)"/>
<path d="M858.19,333.89 A62.15,24.09 0 0 0 982.50,333.89 L982.50,402.50 A61.50,39.50 0 0 1 859.50,402.50 Z" fill="rgb(247,163,39)"/>
<path d="M858.21,334.69 A62.15,24.10 0 0 0 982.50,334.69 L982.50,402.50 A61.50,39.50 0 0 1 859.50,402.50 Z" fill="rgb(247,163,39)"/>
<path d="M858.22,335.49 A62.14,24.11 0 0 0 982.50,335.49 L982.50,402.50 A61.50,39.50 0 0 1 859.50,402.50 Z" fill="rgb(247,163,39)"/>
<path d="M858.24,336.29 A62.13,24.12 0 0 0 982.50,336.29 L982.50,402.50 A61.50,39.50 0 0 1 859.50,402.50 Z" fill="rgb(248,163,39)"/>
<path d="M858.26,337.09 A62.12,24.12 0 0 0 982.50,337.09 L982.50,402.50 A61.50,39.50 0 0 1 859.50,402.50 Z" fill="rgb(248,163,39)"/>
<path d="M858.27,337.89 A62.11,24.13 0 0 0 982.50,337.89 L982.50,402.50 A61.50,39.50 0 0 1 859.50,402.50 Z" fill="rgb(248,164,39)"/>
<path d="M858.29,338.69 A62.11,24.14 0 0 0 982.50,338.69 L982.50,402.50 A61.50,39.50 0 0 1 859.50,402.50 Z" fill="rgb(248,164,39)"/>
<path d="M858.30,339.49 A62.10,24.14 0 0 0 982.50,339.49 L982.50,402.50 A61.50,39.50 0 0 1 859.50,402.50 Z" fill="rgb(248,164,40)"/>
<path d="M858.32,340.28 A62.09,24.15 0 0 0 982.50,340.28 L982.50,402.50 A61.50,39.50 0 0 1 859.50,402.50 Z" fill="rgb(248,164,40)"/>
<path d="M858.33,341.08 A62.08,24.16 0 0 0 982.50,341.08 L982.50,402.50 A61.50,39.50 0 0 1 859.50,402.50 Z" fill="rgb(248,165,40)"/>
<path d="M858.35,341.88 A62.08,24.17 0 0 0 982.50,341.88 L982.50,402.50 A61.50,39.50 0 0 1 859.50,402.50 Z" fill="rgb(248,165,40)"/>
<path d="M858.36,342.68 A62.07,24.17 0 0 0 982.50,342.68 L982.50,402.50 A61.50,39.50 0 0 1 859.50,402.50 Z" fill="rgb(248,166,40)"/>
<path d="M858.38,343.48 A62.06,24.18 0 0 0 982.50,343.48 L982.50,402.50 A61.50,39.50 0 0 1 859.50,402.50 Z" fill="rgb(248,169,39)"/>
<path d="M858.40,344.28 A62.05,24.19 0 0 0 982.50,344.28 L982.50,402.50 A61.50,39.50 0 0 1 859.50,402.50 Z" fill="rgb(248,172,39)"/>
<path d="M858.41,345.08 A62.04,24.19 0 0 0 982.50,345.08 L982.50,402.50 A61.50,39.50 0 0 1 859.50,402.50 Z" fill="rgb(249,174,39)"/>
<path d="M858.43,345.88 A62.04,24.20 0 0 0 982.50,345.88 L982.50,402.50 A61.50,39.50 0 0 1 859.50,402.50 Z" fill="rgb(249,177,38)"/>
<path d="M858.44,346.68 A62.03,24.21 0 0 0 982.50,346.68 L982.50,402.50 A61.50,39.50 0 0 1 859.50,402.50 Z" fill="rgb(249,180,38)"/>
<path d="M858.46,347.47 A62.02,24.22 0 0 0 982.50,347.47 L982.50,402.50 A61.50,39.50 0 0 1 859.50,402.50 Z" fill="rgb(249,182,38)"/>
<path d="M858.47,348.27 A62.01,24.22 0 0 0 982.50,348.27 L982.50,402.50 A61.50,39.50 0 0 1 859.50,402.50 Z" fill="rgb(249,185,37)"/>
<path d="M858.49,349.07 A62.01,24.23 0 0 0 982.50,349.07 L982.50,402.50 A61.50,39.50 0 0 1 859.50,402.50 Z" fill="rgb(249,188,37)"/>
<path d="M858.50,349.87 A62.00,24.24 0 0 0 982.50,349.87 L982.50,402.50 A61.50,39.50 0 0 1 859.50,402.50 Z" fill="rgb(249,190,36)"/>
<path d="M858.52,350.67 A61.99,24.24 0 0 0 982.50,350.67 L982.50,402.50 A61.50,39.50 0 0 1 859.50,402.50 Z" fill="rgb(250,193,36)"/>
<path d="M858.54,351.47 A61.98,24.25 0 0 0 982.50,351.47 L982.50,402.50 A61.50,39.50 0 0 1 859.50,402.50 Z" fill="rgb(250,196,36)"/>
<path d="M858.55,352.27 A61.97,24.26 0 0 0 982.50,352.27 L982.50,402.50 A61.50,39.50 0 0 1 859.50,402.50 Z" fill="rgb(250,198,35)"/>
<path d="M858.57,353.07 A61.97,24.27 0 0 0 982.50,353.07 L982.50,402.50 A61.50,39.50 0 0 1 859.50,402.50 Z" fill="rgb(250,201,35)"/>
<path d="M858.58,353.87 A61.96,24.27 0 0 0 982.50,353.87 L982.50,402.50 A61.50,39.50 0 0 1 859.50,402.50 Z" fill="rgb(250,204,34)"/>
<path d="M858.60,354.66 A61.95,24.28 0 0 0 982.50,354.66 L982.50,402.50 A61.50,39.50 0 0 1 859.50,402.50 Z" fill="rgb(250,207,33)"/>
<path d="M858.61,355.46 A61.94,24.29 0 0 0 982.50,355.46 L982.50,402.50 A61.50,39.50 0 0 1 859.50,402.50 Z" fill="rgb(251,211,33)"/>
<path d="M858.63,356.26 A61.94,24.30 0 0 0 982.50,356.26 L982.50,402.50 A61.50,39.50 0 0 1 859.50,402.50 Z" fill="rgb(251,214,32)"/>
<path d="M858.64,357.06 A61.93,24.30 0 0 0 982.50,357.06 L982.50,402.50 A61.50,39.50 0 0 1 859.50,402.50 Z" fill="rgb(251,217,31)"/>
<path d="M858.66,357.86 A61.92,24.31 0 0 0 982.50,357.86 L982.50,402.50 A61.50,39.50 0 0 1 859.50,402.50 Z" fill="rgb(251,220,31)"/>
<path d="M858.68,358.66 A61.91,24.32 0 0 0 982.50,358.66 L982.50,402.50 A61.50,39.50 0 0 1 859.50,402.50 Z" fill="rgb(251,223,30)"/>
<path d="M858.69,359.46 A61.90,24.32 0 0 0 982.50,359.46 L982.50,402.50 A61.50,39.50 0 0 1 859.50,402.50 Z" fill="rgb(251,226,29)"/>
<path d="M858.71,360.26 A61.90,24.33 0 0 0 982.50,360.26 L982.50,402.50 A61.50,39.50 0 0 1 859.50,402.50 Z" fill="rgb(251,229,28)"/>
<path d="M858.72,361.06 A61.89,24.34 0 0 0 982.50,361.06 L982.50,402.50 A61.50,39.50 0 0 1 859.50,402.50 Z" fill="rgb(252,232,28)"/>
<path d="M858.74,361.85 A61.88,24.35 0 0 0 982.50,361.85 L982.50,402.50 A61.50,39.50 0 0 1 859.50,402.50 Z" fill="rgb(252,236,27)"/>
<path d="M858.75,362.65 A61.87,24.35 0 0 0 982.50,362.65 L982.50,402.50 A61.50,39.50 0 0 1 859.50,402.50 Z" fill="rgb(252,239,26)"/>
<path d="M858.77,363.45 A61.87,24.36 0 0 0 982.50,363.45 L982.50,402.50 A61.50,39.50 0 0 1 859.50,402.50 Z" fill="rgb(252,240,26)"/>
<path d="M858.78,364.25 A61.86,24.37 0 0 0 982.50,364.25 L982.50,402.50 A61.50,39.50 0 0 1 859.50,402.50 Z" fill="rgb(252,241,26)"/>
<path d="M858.80,365.05 A61.85,24.38 0 0 0 982.50,365.05 L982.50,402.50 A61.50,39.50 0 0 1 859.50,402.50 Z" fill="rgb(252,242,26)"/>
<path d="M858.82,365.85 A61.84,24.38 0 0 0 982.50,365.85 L982.50,402.50 A61.50,39.50 0 0 1 859.50,402.50 Z" fill="rgb(252,243,26)"/>
<path d="M858.83,366.65 A61.83,24.39 0 0 0 982.50,366.65 L982.50,402.50 A61.50,39.50 0 0 1 859.50,402.50 Z" fill="rgb(252,243,26)"/>
<path d="M858.85,367.45 A61.83,24.40 0 0 0 982.50,367.45 L982.50,402.50 A61.50,39.50 0 0 1 859.50,402.50 Z" fill="rgb(252,244,26)"/>
<path d="M858.86,368.25 A61.82,24.40 0 0 0 982.50,368.25 L982.50,402.50 A61.50,39.50 0 0 1 859.50,402.50 Z" fill="rgb(252,245,26)"/>
<path d="M858.88,369.04 A61.81,24.41 0 0 0 982.50,369.04 L982.50,402.50 A61.50,39.50 0 0 1 859.50,402.50 Z" fill="rgb(252,246,25)"/>
<path d="M858.89,369.84 A61.80,24.42 0 0 0 982.50,369.84 L982.50,402.50 A61.50,39.50 0 0 1 859.50,402.50 Z" fill="rgb(252,246,25)"/>
<path d="M858.91,370.64 A61.80,24.43 0 0 0 982.50,370.64 L982.50,402.50 A61.50,39.50 0 0 1 859.50,402.50 Z" fill="rgb(252,247,25)"/>
<path d="M858.92,371.44 A61.79,24.43 0 0 0 982.50,371.44 L982.50,402.50 A61.50,39.50 0 0 1 859.50,402.50 Z" fill="rgb(252,248,25)"/>
<path d="M858.94,372.24 A61.78,24.44 0 0 0 982.50,372.24 L982.50,402.50 A61.50,39.50 0 0 1 859.50,402.50 Z" fill="rgb(252,249,25)"/>
<path d="M858.96,373.04 A61.77,24.45 0 0 0 982.50,373.04 L982.50,402.50 A61.50,39.50 0 0 1 859.50,402.50 Z" fill="rgb(252,250,25)"/>
<path d="M858.97,373.84 A61.76,24.45 0 0 0 982.50,373.84 L982.50,402.50 A61.50,39.50 0 0 1 859.50,402.50 Z" fill="rgb(252,250,25)"/>
<path d="M858.99,374.64 A61.76,24.46 0 0 0 982.50,374.64 L982.50,402.50 A61.50,39.50 0 0 1 859.50,402.50 Z" fill="rgb(252,250,25)"/>
<path d="M859.00,375.44 A61.75,24.47 0 0 0 982.50,375.44 L982.50,402.50 A61.50,39.50 0 0 1 859.50,402.50 Z" fill="rgb(252,250,25)"/>
<path d="M859.02,376.23 A61.74,24.48 0 0 0 982.50,376.23 L982.50,402.50 A61.50,39.50 0 0 1 859.50,402.50 Z" fill="rgb(252,250,25)"/>
<path d="M859.03,377.03 A61.73,24.48 0 0 0 982.50,377.03 L982.50,402.50 A61.50,39.50 0 0 1 859.50,402.50 Z" fill="rgb(252,250,25)"/>
<path d="M859.05,377.83 A61.73,24.49 0 0 0 982.50,377.83 L982.50,402.50 A61.50,39.50 0 0 1 859.50,402.50 Z" fill="rgb(252,250,25)"/>
<path d="M859.06,378.63 A61.72,24.50 0 0 0 982.50,378.63 L982.50,402.50 A61.50,39.50 0 0 1 859.50,402.50 Z" fill="rgb(252,250,25)"/>
<path d="M859.08,379.43 A61.71,24.51 0 0 0 982.50,379.43 L982.50,402.50 A61.50,39.50 0 0 1 859.50,402.50 Z" fill="rgb(252,250,25)"/>
<path d="M859.10,380.23 A61.70,24.51 0 0 0 982.50,380.23 L982.50,402.50 A61.50,39.50 0 0 1 859.50,402.50 Z" fill="rgb(252,250,25)"/>
<path d="M859.11,381.03 A61.69,24.52 0 0 0 982.50,381.03 L982.50,402.50 A61.50,39.50 0 0 1 859.50,402.50 Z" fill="rgb(252,250,25)"/>
<path d="M859.13,381.83 A61.69,24.53 0 0 0 982.50,381.83 L982.50,402.50 A61.50,39.50 0 0 1 859.50,402.50 Z" fill="rgb(252,250,25)"/>
<path d="M859.14,382.63 A61.68,24.53 0 0 0 982.50,382.63 L982.50,402.50 A61.50,39.50 0 0 1 859.50,402.50 Z" fill="rgb(252,250,25)"/>
<path d="M859.16,383.42 A61.67,24.54 0 0 0 982.50,383.42 L982.50,402.50 A61.50,39.50 0 0 1 859.50,402.50 Z" fill="rgb(252,250,25)"/>
<path d="M859.17,384.22 A61.66,24.55 0 0 0 982.50,384.22 L982.50,402.50 A61.50,39.50 0 0 1 859.50,402.50 Z" fill="rgb(251,250,25)"/>
<path d="M859.19,385.02 A61.66,24.56 0 0 0 982.50,385.02 L982.50,402.50 A61.50,39.50 0 0 1 859.50,402.50 Z" fill="rgb(251,250,25)"/>
<path d="M859.20,385.82 A61.65,24.56 0 0 0 982.50,385.82 L982.50,402.50 A61.50,39.50 0 0 1 859.50,402.50 Z" fill="rgb(251,250,25)"/>
<path d="M859.22,386.62 A61.64,24.57 0 0 0 982.50,386.62 L982.50,402.50 A61.50,39.50 0 0 1 859.50,402.50 Z" fill="rgb(251,250,25)"/>
<path d="M859.24,387.42 A61.63,24.58 0 0 0 982.50,387.42 L982.50,402.50 A61.50,39.50 0 0 1 859.50,402.50 Z" fill="rgb(251,250,25)"/>
<path d="M859.25,388.22 A61.62,24.58 0 0 0 982.50,388.22 L982.50,402.50 A61.50,39.50 0 0 1 859.50,402.50 Z" fill="rgb(251,250,25)"/>
<path d="M859.27,389.02 A61.62,24.59 0 0 0 982.50,389.02 L982.50,402.50 A61.50,39.50 0 0 1 859.50,402.50 Z" fill="rgb(251,250,25)"/>
<path d="M859.28,389.82 A61.61,24.60 0 0 0 982.50,389.82 L982.50,402.50 A61.50,39.50 0 0 1 859.50,402.50 Z" fill="rgb(251,250,25)"/>
<path d="M859.30,390.61 A61.60,24.61 0 0 0 982.50,390.61 L982.50,402.50 A61.50,39.50 0 0 1 859.50,402.50 Z" fill="rgb(251,250,25)"/>
<path d="M859.31,391.41 A61.59,24.61 0 0 0 982.50,391.41 L982.50,402.50 A61.50,39.50 0 0 1 859.50,402.50 Z" fill="rgb(251,250,25)"/>
<path d="M859.33,392.21 A61.59,24.62 0 0 0 982.50,392.21 L982.50,402.50 A61.50,39.50 0 0 1 859.50,402.50 Z" fill="rgb(251,250,25)"/>
<path d="M859.34,393.01 A61.58,24.63 0 0 0 982.50,393.01 L982.50,402.50 A61.50,39.50 0 0 1 859.50,402.50 Z" fill="rgb(251,250,25)"/>
<path d="M859.36,393.81 A61.57,24.64 0 0 0 982.50,393.81 L982.50,402.50 A61.50,39.50 0 0 1 859.50,402.50 Z" fill="rgb(251,250,25)"/>
<path d="M859.38,394.61 A61.56,24.64 0 0 0 982.50,394.61 L982.50,402.50 A61.50,39.50 0 0 1 859.50,402.50 Z" fill="rgb(251,250,24)"/>
<path d="M859.39,395.41 A61.55,24.65 0 0 0 982.50,395.41 L982.50,402.50 A61.50,39.50 0 0 1 859.50,402.50 Z" fill="rgb(251,250,24)"/>
<path d="M859.41,396.21 A61.55,24.66 0 0 0 982.50,396.21 L982.50,402.50 A61.50,39.50 0 0 1 859.50,402.50 Z" fill="rgb(251,250,24)"/>
<path d="M859.42,397.01 A61.54,24.66 0 0 0 982.50,397.01 L982.50,402.50 A61.50,39.50 0 0 1 859.50,402.50 Z" fill="rgb(251,250,24)"/>
<path d="M859.44,397.80 A61.53,24.67 0 0 0 982.50,397.80 L982.50,402.50 A61.50,39.50 0 0 1 859.50,402.50 Z" fill="rgb(251,250,24)"/>
<path d="M859.45,398.60 A61.52,24.68 0 0 0 982.50,398.60 L982.50,402.50 A61.50,39.50 0 0 1 859.50,402.50 Z" fill="rgb(251,250,24)"/>
<path d="M859.47,399.40 A61.52,24.69 0 0 0 982.50,399.40 L982.50,402.50 A61.50,39.50 0 0 1 859.50,402.50 Z" fill="rgb(251,250,24)"/>
<path d="M859.48,400.20 A61.51,24.69 0 0 0 982.50,400.20 L982.50,402.50 A61.50,39.50 0 0 1 859.50,402.50 Z" fill="rgb(251,250,24)"/>
<path d="M859.50,401.00 A61.50,24.70 0 0 0 982.50,401.00 L982.50,402.50 A61.50,39.50 0 0 1 859.50,402.50 Z" fill="rgb(251,250,24)"/>
</g>
<path d="M859.6,329.1 L861.0,401.0 A60.0,38.0 0 0 0 981.0,401.0 L981.0,329.1 A60.7,37.0 0 0 1 859.6,329.1 Z" fill="url(#shd)"/>
<path d="M861.0,401.0 A60.0,38.0 0 0 0 981.0,401.0" fill="none" stroke="#111" stroke-width="1.4"/>
<ellipse cx="920.3" cy="329.1" rx="60.7" ry="37.0" fill="#c27a22" stroke="#111" stroke-width="1.6"/>
<line x1="702.3" y1="85.0" x2="925.6" y2="3.0" stroke="#000" stroke-width="2.40" stroke-linecap="round"/>
<line x1="925.6" y1="3.0" x2="1142.8" y2="86.2" stroke="#000" stroke-width="2.40" stroke-linecap="round"/>
<line x1="702.3" y1="85.0" x2="915.4" y2="195.5" stroke="#000" stroke-width="2.40" stroke-linecap="round"/>
<line x1="1142.8" y1="86.2" x2="915.4" y2="195.5" stroke="#000" stroke-width="2.40" stroke-linecap="round"/>
<line x1="702.3" y1="85.0" x2="727.9" y2="334.2" stroke="#000" stroke-width="2.40" stroke-linecap="round"/>
<line x1="915.4" y1="195.5" x2="918.0" y2="470.3" stroke="#000" stroke-width="2.40" stroke-linecap="round"/>
<line x1="727.9" y1="334.2" x2="918.0" y2="470.3" stroke="#000" stroke-width="2.80" stroke-linecap="round"/>
<line x1="918.0" y1="470.3" x2="1120.1" y2="337.7" stroke="#000" stroke-width="2.80" stroke-linecap="round"/>
<line x1="1142.8" y1="86.2" x2="1120.1" y2="337.7" stroke="#000" stroke-width="4.00" stroke-linecap="round"/>
<line x1="1120.1" y1="337.7" x2="1113.5" y2="334.1" stroke="#000" stroke-width="2.30" stroke-linecap="round"/>
<line x1="1121.1" y1="326.5" x2="1117.1" y2="324.4" stroke="#000" stroke-width="2.30" stroke-linecap="round"/>
<line x1="1122.1" y1="315.2" x2="1115.5" y2="311.7" stroke="#000" stroke-width="2.30" stroke-linecap="round"/>
<line x1="1123.2" y1="303.8" x2="1119.1" y2="301.7" stroke="#000" stroke-width="2.30" stroke-linecap="round"/>
<line x1="1124.2" y1="292.2" x2="1117.5" y2="288.8" stroke="#000" stroke-width="2.30" stroke-linecap="round"/>
<line x1="1125.3" y1="280.5" x2="1121.2" y2="278.4" stroke="#000" stroke-width="2.30" stroke-linecap="round"/>
<line x1="1126.3" y1="268.7" x2="1119.6" y2="265.3" stroke="#000" stroke-width="2.30" stroke-linecap="round"/>
<line x1="1127.4" y1="256.7" x2="1123.3" y2="254.6" stroke="#000" stroke-width="2.30" stroke-linecap="round"/>
<line x1="1128.5" y1="244.5" x2="1121.8" y2="241.2" stroke="#000" stroke-width="2.30" stroke-linecap="round"/>
<line x1="1129.6" y1="232.2" x2="1125.5" y2="230.2" stroke="#000" stroke-width="2.30" stroke-linecap="round"/>
<line x1="1130.7" y1="219.8" x2="1124.0" y2="216.6" stroke="#000" stroke-width="2.30" stroke-linecap="round"/>
<line x1="1131.9" y1="207.2" x2="1127.7" y2="205.2" stroke="#000" stroke-width="2.30" stroke-linecap="round"/>
<line x1="1133.0" y1="194.4" x2="1126.2" y2="191.3" stroke="#000" stroke-width="2.30" stroke-linecap="round"/>
<line x1="1134.2" y1="181.5" x2="1130.0" y2="179.6" stroke="#000" stroke-width="2.30" stroke-linecap="round"/>
<line x1="1135.4" y1="168.4" x2="1128.5" y2="165.4" stroke="#000" stroke-width="2.30" stroke-linecap="round"/>
<line x1="1136.6" y1="155.1" x2="1132.3" y2="153.3" stroke="#000" stroke-width="2.30" stroke-linecap="round"/>
<line x1="1137.8" y1="141.7" x2="1130.9" y2="138.8" stroke="#000" stroke-width="2.30" stroke-linecap="round"/>
<line x1="1139.0" y1="128.1" x2="1134.8" y2="126.3" stroke="#000" stroke-width="2.30" stroke-linecap="round"/>
<line x1="1140.3" y1="114.3" x2="1133.3" y2="111.5" stroke="#000" stroke-width="2.30" stroke-linecap="round"/>
<line x1="1141.5" y1="100.3" x2="1137.2" y2="98.7" stroke="#000" stroke-width="2.30" stroke-linecap="round"/>
<line x1="1142.8" y1="86.2" x2="1135.8" y2="83.5" stroke="#000" stroke-width="2.30" stroke-linecap="round"/>
<line x1="770.5" y1="364.7" x2="776.2" y2="361.6" stroke="#000" stroke-width="2.00" stroke-linecap="round"/>
<line x1="816.1" y1="397.4" x2="821.9" y2="394.1" stroke="#000" stroke-width="2.00" stroke-linecap="round"/>
<line x1="865.2" y1="432.5" x2="870.9" y2="429.0" stroke="#000" stroke-width="2.00" stroke-linecap="round"/>
<text x="990.5" y="129.5" class="vl">70.12</text>
<text x="989.0" y="335.0" class="vl">29.88</text>
<text transform="matrix(0.996,0.392,-0.190,0.980,1124.4,348.0)" class="al">0</text>
<text transform="matrix(0.996,0.392,-0.190,0.980,1126.4,325.5)" class="al">10</text>
<text transform="matrix(0.996,0.392,-0.190,0.980,1128.5,302.5)" class="al">20</text>
<text transform="matrix(0.996,0.392,-0.190,0.980,1130.6,279.0)" class="al">30</text>
<text transform="matrix(0.996,0.392,-0.190,0.980,1132.8,254.8)" class="al">40</text>
<text transform="matrix(0.996,0.392,-0.190,0.980,1135.0,230.1)" class="al">50</text>
<text transform="matrix(0.996,0.392,-0.190,0.980,1137.3,204.7)" class="al">60</text>
<text transform="matrix(0.996,0.392,-0.190,0.980,1139.7,178.7)" class="al">70</text>
<text transform="matrix(0.996,0.392,-0.190,0.980,1142.1,152.0)" class="al">80</text>
<text transform="matrix(0.996,0.392,-0.190,0.980,1144.6,124.6)" class="al">90</text>
<text transform="matrix(0.996,0.392,-0.190,0.980,1147.1,96.5)" class="al">100</text>
<text transform="translate(1182.6,238.5) rotate(-83) scale(1,0.84)" text-anchor="middle" class="at">Storage Contribition (%)</text>
<text transform="matrix(0.879,-0.477,0.705,0.591,736.0,390.5)" text-anchor="middle" class="cl" style="font-size:20.0px">Diffusive</text>
<text transform="matrix(0.862,-0.508,0.705,0.591,823.0,467.5)" text-anchor="middle" class="cl" style="font-size:21.8px">Capacitive</text>
<text x="621.5" y="28.6" class="pl2">(b)</text>
<line x1="723.1" y1="814.1" x2="925.3" y2="714.4" stroke="#d9d9d9" stroke-width="0.90" stroke-linecap="round"/>
<line x1="925.3" y1="714.7" x2="1119.6" y2="817.7" stroke="#d9d9d9" stroke-width="0.90" stroke-linecap="round"/>
<line x1="720.7" y1="791.0" x2="925.1" y2="692.9" stroke="#d9d9d9" stroke-width="0.90" stroke-linecap="round"/>
<line x1="925.1" y1="693.4" x2="1121.7" y2="794.7" stroke="#d9d9d9" stroke-width="0.90" stroke-linecap="round"/>
<line x1="718.3" y1="767.5" x2="924.8" y2="671.0" stroke="#d9d9d9" stroke-width="0.90" stroke-linecap="round"/>
<line x1="924.8" y1="671.6" x2="1123.8" y2="771.2" stroke="#d9d9d9" stroke-width="0.90" stroke-linecap="round"/>
<line x1="715.8" y1="743.4" x2="924.6" y2="648.7" stroke="#d9d9d9" stroke-width="0.90" stroke-linecap="round"/>
<line x1="924.6" y1="649.4" x2="1126.0" y2="747.0" stroke="#d9d9d9" stroke-width="0.90" stroke-linecap="round"/>
<line x1="713.3" y1="718.8" x2="924.4" y2="626.0" stroke="#d9d9d9" stroke-width="0.90" stroke-linecap="round"/>
<line x1="924.4" y1="626.7" x2="1128.2" y2="722.3" stroke="#d9d9d9" stroke-width="0.90" stroke-linecap="round"/>
<line x1="710.7" y1="693.7" x2="924.1" y2="602.9" stroke="#d9d9d9" stroke-width="0.90" stroke-linecap="round"/>
<line x1="924.1" y1="603.6" x2="1130.5" y2="696.9" stroke="#d9d9d9" stroke-width="0.90" stroke-linecap="round"/>
<line x1="708.1" y1="668.0" x2="923.9" y2="579.2" stroke="#d9d9d9" stroke-width="0.90" stroke-linecap="round"/>
<line x1="923.9" y1="579.9" x2="1132.9" y2="670.9" stroke="#d9d9d9" stroke-width="0.90" stroke-linecap="round"/>
<line x1="705.4" y1="641.8" x2="923.6" y2="555.1" stroke="#d9d9d9" stroke-width="0.90" stroke-linecap="round"/>
<line x1="923.6" y1="555.6" x2="1135.3" y2="644.2" stroke="#d9d9d9" stroke-width="0.90" stroke-linecap="round"/>
<line x1="702.6" y1="615.0" x2="923.4" y2="530.6" stroke="#d9d9d9" stroke-width="0.90" stroke-linecap="round"/>
<line x1="923.4" y1="530.9" x2="1137.8" y2="616.8" stroke="#d9d9d9" stroke-width="0.90" stroke-linecap="round"/>
<line x1="779.8" y1="809.2" x2="761.0" y2="565.0" stroke="#d9d9d9" stroke-width="0.90" stroke-linecap="round"/>
<line x1="969.1" y1="759.3" x2="971.8" y2="524.1" stroke="#d9d9d9" stroke-width="0.90" stroke-linecap="round"/>
<line x1="768.0" y1="867.2" x2="969.1" y2="759.3" stroke="#d9d9d9" stroke-width="0.90" stroke-linecap="round"/>
<line x1="780.2" y1="809.0" x2="971.5" y2="936.0" stroke="#d9d9d9" stroke-width="0.90" stroke-linecap="round"/>
<line x1="879.6" y1="758.7" x2="872.4" y2="524.1" stroke="#d9d9d9" stroke-width="0.90" stroke-linecap="round"/>
<line x1="1064.8" y1="811.4" x2="1080.0" y2="565.6" stroke="#d9d9d9" stroke-width="0.90" stroke-linecap="round"/>
<line x1="862.7" y1="935.0" x2="1064.9" y2="811.5" stroke="#d9d9d9" stroke-width="0.90" stroke-linecap="round"/>
<line x1="879.9" y1="758.5" x2="1072.2" y2="870.0" stroke="#d9d9d9" stroke-width="0.90" stroke-linecap="round"/>
<line x1="923.1" y1="505.5" x2="925.5" y2="735.5" stroke="#000" stroke-width="2.20" stroke-linecap="round"/>
<line x1="725.4" y1="836.7" x2="925.5" y2="735.5" stroke="#000" stroke-width="2.20" stroke-linecap="round"/>
<line x1="925.5" y1="735.5" x2="1117.6" y2="840.2" stroke="#000" stroke-width="2.20" stroke-linecap="round"/>
<mask id="cyl3" maskUnits="userSpaceOnUse" x="0" y="0" width="1200" height="995"><path d="M867.1,665.3 L871.0,785.0 A52.0,22.0 0 0 0 975.0,785.0 L977.9,665.3 A55.4,26.3 0 0 1 867.1,665.3 Z" fill="#fff"/></mask>
<g mask="url(#cyl3)">
<path d="M865.60,665.30 A56.90,3.94 0 0 0 979.40,665.30 L976.50,786.50 A53.50,23.50 0 0 1 869.50,786.50 Z" fill="rgb(194,34,200)"/>
<path d="M865.64,666.63 A56.86,3.94 0 0 0 979.37,666.63 L976.50,786.50 A53.50,23.50 0 0 1 869.50,786.50 Z" fill="rgb(194,34,200)"/>
<path d="M865.69,667.96 A56.82,3.93 0 0 0 979.34,667.96 L976.50,786.50 A53.50,23.50 0 0 1 869.50,786.50 Z" fill="rgb(195,35,200)"/>
<path d="M865.73,669.29 A56.79,3.92 0 0 0 979.30,669.29 L976.50,786.50 A53.50,23.50 0 0 1 869.50,786.50 Z" fill="rgb(195,35,200)"/>
<path d="M865.77,670.62 A56.75,3.92 0 0 0 979.27,670.62 L976.50,786.50 A53.50,23.50 0 0 1 869.50,786.50 Z" fill="rgb(196,36,200)"/>
<path d="M865.82,671.95 A56.71,3.91 0 0 0 979.24,671.95 L976.50,786.50 A53.50,23.50 0 0 1 869.50,786.50 Z" fill="rgb(196,36,200)"/>
<path d="M865.86,673.28 A56.67,3.90 0 0 0 979.21,673.28 L976.50,786.50 A53.50,23.50 0 0 1 869.50,786.50 Z" fill="rgb(197,37,200)"/>
<path d="M865.90,674.61 A56.64,3.89 0 0 0 979.17,674.61 L976.50,786.50 A53.50,23.50 0 0 1 869.50,786.50 Z" fill="rgb(197,37,200)"/>
<path d="M865.95,675.94 A56.60,3.89 0 0 0 979.14,675.94 L976.50,786.50 A53.50,23.50 0 0 1 869.50,786.50 Z" fill="rgb(198,38,200)"/>
<path d="M865.99,677.27 A56.56,3.88 0 0 0 979.11,677.27 L976.50,786.50 A53.50,23.50 0 0 1 869.50,786.50 Z" fill="rgb(198,38,200)"/>
<path d="M866.03,678.60 A56.52,3.87 0 0 0 979.08,678.60 L976.50,786.50 A53.50,23.50 0 0 1 869.50,786.50 Z" fill="rgb(199,39,200)"/>
<path d="M866.08,679.93 A56.48,3.87 0 0 0 979.05,679.93 L976.50,786.50 A53.50,23.50 0 0 1 869.50,786.50 Z" fill="rgb(199,39,200)"/>
<path d="M866.12,681.26 A56.45,3.86 0 0 0 979.01,681.26 L976.50,786.50 A53.50,23.50 0 0 1 869.50,786.50 Z" fill="rgb(200,40,200)"/>
<path d="M866.16,682.59 A56.41,3.85 0 0 0 978.98,682.59 L976.50,786.50 A53.50,23.50 0 0 1 869.50,786.50 Z" fill="rgb(201,41,200)"/>
<path d="M866.21,683.92 A56.37,3.84 0 0 0 978.95,683.92 L976.50,786.50 A53.50,23.50 0 0 1 869.50,786.50 Z" fill="rgb(203,43,200)"/>
<path d="M866.25,685.25 A56.33,3.84 0 0 0 978.92,685.25 L976.50,786.50 A53.50,23.50 0 0 1 869.50,786.50 Z" fill="rgb(204,45,200)"/>
<path d="M866.29,686.58 A56.30,3.83 0 0 0 978.88,686.58 L976.50,786.50 A53.50,23.50 0 0 1 869.50,786.50 Z" fill="rgb(206,48,200)"/>
<path d="M866.34,687.91 A56.26,3.82 0 0 0 978.85,687.91 L976.50,786.50 A53.50,23.50 0 0 1 869.50,786.50 Z" fill="rgb(208,50,200)"/>
<path d="M866.38,689.24 A56.22,3.82 0 0 0 978.82,689.24 L976.50,786.50 A53.50,23.50 0 0 1 869.50,786.50 Z" fill="rgb(210,52,200)"/>
<path d="M866.42,690.57 A56.18,3.81 0 0 0 978.79,690.57 L976.50,786.50 A53.50,23.50 0 0 1 869.50,786.50 Z" fill="rgb(212,54,200)"/>
<path d="M866.47,691.90 A56.14,3.80 0 0 0 978.76,691.90 L976.50,786.50 A53.50,23.50 0 0 1 869.50,786.50 Z" fill="rgb(213,57,200)"/>
<path d="M866.51,693.23 A56.11,3.79 0 0 0 978.72,693.23 L976.50,786.50 A53.50,23.50 0 0 1 869.50,786.50 Z" fill="rgb(215,59,200)"/>
<path d="M866.55,694.56 A56.07,3.79 0 0 0 978.69,694.56 L976.50,786.50 A53.50,23.50 0 0 1 869.50,786.50 Z" fill="rgb(217,61,200)"/>
<path d="M866.60,695.89 A56.03,3.78 0 0 0 978.66,695.89 L976.50,786.50 A53.50,23.50 0 0 1 869.50,786.50 Z" fill="rgb(219,63,200)"/>
<path d="M866.64,697.22 A55.99,3.77 0 0 0 978.63,697.22 L976.50,786.50 A53.50,23.50 0 0 1 869.50,786.50 Z" fill="rgb(221,66,200)"/>
<path d="M866.68,698.55 A55.96,3.77 0 0 0 978.59,698.55 L976.50,786.50 A53.50,23.50 0 0 1 869.50,786.50 Z" fill="rgb(222,68,200)"/>
<path d="M866.73,699.88 A55.92,3.76 0 0 0 978.56,699.88 L976.50,786.50 A53.50,23.50 0 0 1 869.50,786.50 Z" fill="rgb(224,70,200)"/>
<path d="M866.77,701.21 A55.88,3.75 0 0 0 978.53,701.21 L976.50,786.50 A53.50,23.50 0 0 1 869.50,786.50 Z" fill="rgb(228,75,200)"/>
<path d="M866.81,702.54 A55.84,3.74 0 0 0 978.50,702.54 L976.50,786.50 A53.50,23.50 0 0 1 869.50,786.50 Z" fill="rgb(231,79,200)"/>
<path d="M866.86,703.87 A55.80,3.74 0 0 0 978.47,703.87 L976.50,786.50 A53.50,23.50 0 0 1 869.50,786.50 Z" fill="rgb(235,84,200)"/>
<path d="M866.90,705.20 A55.77,3.73 0 0 0 978.43,705.20 L976.50,786.50 A53.50,23.50 0 0 1 869.50,786.50 Z" fill="rgb(239,88,200)"/>
<path d="M866.94,706.53 A55.73,3.72 0 0 0 978.40,706.53 L976.50,786.50 A53.50,23.50 0 0 1 869.50,786.50 Z" fill="rgb(241,92,198)"/>
<path d="M866.99,707.86 A55.69,3.72 0 0 0 978.37,707.86 L976.50,786.50 A53.50,23.50 0 0 1 869.50,786.50 Z" fill="rgb(242,95,196)"/>
<path d="M867.03,709.19 A55.65,3.71 0 0 0 978.34,709.19 L976.50,786.50 A53.50,23.50 0 0 1 869.50,786.50 Z" fill="rgb(243,98,193)"/>
<path d="M867.07,710.52 A55.62,3.70 0 0 0 978.30,710.52 L976.50,786.50 A53.50,23.50 0 0 1 869.50,786.50 Z" fill="rgb(244,101,190)"/>
<path d="M867.12,711.85 A55.58,3.69 0 0 0 978.27,711.85 L976.50,786.50 A53.50,23.50 0 0 1 869.50,786.50 Z" fill="rgb(245,105,188)"/>
<path d="M867.16,713.18 A55.54,3.69 0 0 0 978.24,713.18 L976.50,786.50 A53.50,23.50 0 0 1 869.50,786.50 Z" fill="rgb(246,109,186)"/>
<path d="M867.20,714.51 A55.50,3.68 0 0 0 978.21,714.51 L976.50,786.50 A53.50,23.50 0 0 1 869.50,786.50 Z" fill="rgb(246,112,185)"/>
<path d="M867.25,715.84 A55.46,3.67 0 0 0 978.18,715.84 L976.50,786.50 A53.50,23.50 0 0 1 869.50,786.50 Z" fill="rgb(247,116,183)"/>
<path d="M867.29,717.17 A55.43,3.67 0 0 0 978.14,717.17 L976.50,786.50 A53.50,23.50 0 0 1 869.50,786.50 Z" fill="rgb(247,120,182)"/>
<path d="M867.33,718.50 A55.39,3.66 0 0 0 978.11,718.50 L976.50,786.50 A53.50,23.50 0 0 1 869.50,786.50 Z" fill="rgb(248,124,181)"/>
<path d="M867.38,719.83 A55.35,3.65 0 0 0 978.08,719.83 L976.50,786.50 A53.50,23.50 0 0 1 869.50,786.50 Z" fill="rgb(248,128,178)"/>
<path d="M867.42,721.16 A55.31,3.64 0 0 0 978.05,721.16 L976.50,786.50 A53.50,23.50 0 0 1 869.50,786.50 Z" fill="rgb(248,132,175)"/>
<path d="M867.46,722.49 A55.28,3.64 0 0 0 978.01,722.49 L976.50,786.50 A53.50,23.50 0 0 1 869.50,786.50 Z" fill="rgb(248,136,172)"/>
<path d="M867.51,723.82 A55.24,3.63 0 0 0 977.98,723.82 L976.50,786.50 A53.50,23.50 0 0 1 869.50,786.50 Z" fill="rgb(248,139,169)"/>
<path d="M867.55,725.15 A55.20,3.62 0 0 0 977.95,725.15 L976.50,786.50 A53.50,23.50 0 0 1 869.50,786.50 Z" fill="rgb(248,143,166)"/>
<path d="M867.59,726.48 A55.16,3.62 0 0 0 977.92,726.48 L976.50,786.50 A53.50,23.50 0 0 1 869.50,786.50 Z" fill="rgb(248,147,163)"/>
<path d="M867.64,727.81 A55.12,3.61 0 0 0 977.89,727.81 L976.50,786.50 A53.50,23.50 0 0 1 869.50,786.50 Z" fill="rgb(248,151,161)"/>
<path d="M867.68,729.14 A55.09,3.60 0 0 0 977.85,729.14 L976.50,786.50 A53.50,23.50 0 0 1 869.50,786.50 Z" fill="rgb(248,154,158)"/>
<path d="M867.72,730.47 A55.05,3.59 0 0 0 977.82,730.47 L976.50,786.50 A53.50,23.50 0 0 1 869.50,786.50 Z" fill="rgb(248,158,155)"/>
<path d="M867.77,731.80 A55.01,3.59 0 0 0 977.79,731.80 L976.50,786.50 A53.50,23.50 0 0 1 869.50,786.50 Z" fill="rgb(248,162,152)"/>
<path d="M867.81,733.13 A54.97,3.58 0 0 0 977.76,733.13 L976.50,786.50 A53.50,23.50 0 0 1 869.50,786.50 Z" fill="rgb(248,166,149)"/>
<path d="M867.85,734.46 A54.94,3.57 0 0 0 977.72,734.46 L976.50,786.50 A53.50,23.50 0 0 1 869.50,786.50 Z" fill="rgb(248,169,146)"/>
<path d="M867.90,735.79 A54.90,3.57 0 0 0 977.69,735.79 L976.50,786.50 A53.50,23.50 0 0 1 869.50,786.50 Z" fill="rgb(247,173,143)"/>
<path d="M867.94,737.12 A54.86,3.56 0 0 0 977.66,737.12 L976.50,786.50 A53.50,23.50 0 0 1 869.50,786.50 Z" fill="rgb(247,177,140)"/>
<path d="M867.98,738.45 A54.82,3.55 0 0 0 977.63,738.45 L976.50,786.50 A53.50,23.50 0 0 1 869.50,786.50 Z" fill="rgb(247,181,137)"/>
<path d="M868.03,739.78 A54.78,3.54 0 0 0 977.60,739.78 L976.50,786.50 A53.50,23.50 0 0 1 869.50,786.50 Z" fill="rgb(247,184,134)"/>
<path d="M868.07,741.11 A54.75,3.54 0 0 0 977.56,741.11 L976.50,786.50 A53.50,23.50 0 0 1 869.50,786.50 Z" fill="rgb(246,188,131)"/>
<path d="M868.11,742.44 A54.71,3.53 0 0 0 977.53,742.44 L976.50,786.50 A53.50,23.50 0 0 1 869.50,786.50 Z" fill="rgb(246,192,128)"/>
<path d="M868.16,743.77 A54.67,3.52 0 0 0 977.50,743.77 L976.50,786.50 A53.50,23.50 0 0 1 869.50,786.50 Z" fill="rgb(246,195,126)"/>
<path d="M868.20,745.10 A54.63,3.52 0 0 0 977.47,745.10 L976.50,786.50 A53.50,23.50 0 0 1 869.50,786.50 Z" fill="rgb(246,198,123)"/>
<path d="M868.24,746.43 A54.60,3.51 0 0 0 977.43,746.43 L976.50,786.50 A53.50,23.50 0 0 1 869.50,786.50 Z" fill="rgb(246,201,120)"/>
<path d="M868.29,747.76 A54.56,3.50 0 0 0 977.40,747.76 L976.50,786.50 A53.50,23.50 0 0 1 869.50,786.50 Z" fill="rgb(245,205,118)"/>
<path d="M868.33,749.09 A54.52,3.49 0 0 0 977.37,749.09 L976.50,786.50 A53.50,23.50 0 0 1 869.50,786.50 Z" fill="rgb(245,208,115)"/>
<path d="M868.37,750.42 A54.48,3.49 0 0 0 977.34,750.42 L976.50,786.50 A53.50,23.50 0 0 1 869.50,786.50 Z" fill="rgb(245,211,112)"/>
<path d="M868.42,751.75 A54.44,3.48 0 0 0 977.31,751.75 L976.50,786.50 A53.50,23.50 0 0 1 869.50,786.50 Z" fill="rgb(245,214,110)"/>
<path d="M868.46,753.08 A54.41,3.47 0 0 0 977.27,753.08 L976.50,786.50 A53.50,23.50 0 0 1 869.50,786.50 Z" fill="rgb(245,217,106)"/>
<path d="M868.50,754.41 A54.37,3.46 0 0 0 977.24,754.41 L976.50,786.50 A53.50,23.50 0 0 1 869.50,786.50 Z" fill="rgb(245,219,103)"/>
<path d="M868.55,755.74 A54.33,3.46 0 0 0 977.21,755.74 L976.50,786.50 A53.50,23.50 0 0 1 869.50,786.50 Z" fill="rgb(245,221,99)"/>
<path d="M868.59,757.07 A54.29,3.45 0 0 0 977.18,757.07 L976.50,786.50 A53.50,23.50 0 0 1 869.50,786.50 Z" fill="rgb(245,223,95)"/>
<path d="M868.63,758.40 A54.26,3.44 0 0 0 977.14,758.40 L976.50,786.50 A53.50,23.50 0 0 1 869.50,786.50 Z" fill="rgb(245,225,91)"/>
<path d="M868.68,759.73 A54.22,3.44 0 0 0 977.11,759.73 L976.50,786.50 A53.50,23.50 0 0 1 869.50,786.50 Z" fill="rgb(245,227,88)"/>
<path d="M868.72,761.06 A54.18,3.43 0 0 0 977.08,761.06 L976.50,786.50 A53.50,23.50 0 0 1 869.50,786.50 Z" fill="rgb(245,229,84)"/>
<path d="M868.76,762.39 A54.14,3.42 0 0 0 977.05,762.39 L976.50,786.50 A53.50,23.50 0 0 1 869.50,786.50 Z" fill="rgb(245,231,80)"/>
<path d="M868.81,763.72 A54.10,3.41 0 0 0 977.02,763.72 L976.50,786.50 A53.50,23.50 0 0 1 869.50,786.50 Z" fill="rgb(245,233,77)"/>
<path d="M868.85,765.05 A54.07,3.41 0 0 0 976.98,765.05 L976.50,786.50 A53.50,23.50 0 0 1 869.50,786.50 Z" fill="rgb(245,235,73)"/>
<path d="M868.89,766.38 A54.03,3.40 0 0 0 976.95,766.38 L976.50,786.50 A53.50,23.50 0 0 1 869.50,786.50 Z" fill="rgb(245,237,69)"/>
<path d="M868.94,767.71 A53.99,3.39 0 0 0 976.92,767.71 L976.50,786.50 A53.50,23.50 0 0 1 869.50,786.50 Z" fill="rgb(245,239,66)"/>
<path d="M868.98,769.04 A53.95,3.39 0 0 0 976.89,769.04 L976.50,786.50 A53.50,23.50 0 0 1 869.50,786.50 Z" fill="rgb(246,240,62)"/>
<path d="M869.02,770.37 A53.92,3.38 0 0 0 976.85,770.37 L976.50,786.50 A53.50,23.50 0 0 1 869.50,786.50 Z" fill="rgb(246,241,59)"/>
<path d="M869.07,771.70 A53.88,3.37 0 0 0 976.82,771.70 L976.50,786.50 A53.50,23.50 0 0 1 869.50,786.50 Z" fill="rgb(247,242,56)"/>
<path d="M869.11,773.03 A53.84,3.36 0 0 0 976.79,773.03 L976.50,786.50 A53.50,23.50 0 0 1 869.50,786.50 Z" fill="rgb(247,243,53)"/>
<path d="M869.15,774.36 A53.80,3.36 0 0 0 976.76,774.36 L976.50,786.50 A53.50,23.50 0 0 1 869.50,786.50 Z" fill="rgb(247,244,50)"/>
<path d="M869.20,775.69 A53.76,3.35 0 0 0 976.73,775.69 L976.50,786.50 A53.50,23.50 0 0 1 869.50,786.50 Z" fill="rgb(248,245,46)"/>
<path d="M869.24,777.02 A53.73,3.34 0 0 0 976.69,777.02 L976.50,786.50 A53.50,23.50 0 0 1 869.50,786.50 Z" fill="rgb(248,246,43)"/>
<path d="M869.28,778.35 A53.69,3.34 0 0 0 976.66,778.35 L976.50,786.50 A53.50,23.50 0 0 1 869.50,786.50 Z" fill="rgb(249,247,40)"/>
<path d="M869.33,779.68 A53.65,3.33 0 0 0 976.63,779.68 L976.50,786.50 A53.50,23.50 0 0 1 869.50,786.50 Z" fill="rgb(249,248,37)"/>
<path d="M869.37,781.01 A53.61,3.32 0 0 0 976.60,781.01 L976.50,786.50 A53.50,23.50 0 0 1 869.50,786.50 Z" fill="rgb(250,249,33)"/>
<path d="M869.41,782.34 A53.58,3.31 0 0 0 976.56,782.34 L976.50,786.50 A53.50,23.50 0 0 1 869.50,786.50 Z" fill="rgb(250,250,30)"/>
<path d="M869.46,783.67 A53.54,3.31 0 0 0 976.53,783.67 L976.50,786.50 A53.50,23.50 0 0 1 869.50,786.50 Z" fill="rgb(250,250,30)"/>
<path d="M869.50,785.00 A53.50,3.30 0 0 0 976.50,785.00 L976.50,786.50 A53.50,23.50 0 0 1 869.50,786.50 Z" fill="rgb(250,250,30)"/>
</g>
<path d="M867.1,665.3 L871.0,785.0 A52.0,22.0 0 0 0 975.0,785.0 L977.9,665.3 A55.4,26.3 0 0 1 867.1,665.3 Z" fill="url(#shd)"/>
<path d="M871.0,785.0 A52.0,22.0 0 0 0 975.0,785.0" fill="none" stroke="#111" stroke-width="1.4"/>
<ellipse cx="922.5" cy="665.3" rx="55.4" ry="26.3" fill="#8f1a95" stroke="#111" stroke-width="1.6"/>
<mask id="cyl4" maskUnits="userSpaceOnUse" x="0" y="0" width="1200" height="995"><path d="M855.2,787.7 L857.8,901.7 A60.6,40.0 0 0 0 979.0,901.7 L981.0,787.7 A62.9,35.7 0 0 1 855.2,787.7 Z" fill="#fff"/></mask>
<g mask="url(#cyl4)">
<path d="M853.70,787.70 A64.40,23.21 0 0 0 982.50,787.70 L980.50,903.20 A62.10,41.50 0 0 1 856.30,903.20 Z" fill="rgb(246,158,33)"/>
<path d="M853.73,788.97 A64.37,23.24 0 0 0 982.48,788.97 L980.50,903.20 A62.10,41.50 0 0 1 856.30,903.20 Z" fill="rgb(246,158,33)"/>
<path d="M853.76,790.23 A64.35,23.27 0 0 0 982.46,790.23 L980.50,903.20 A62.10,41.50 0 0 1 856.30,903.20 Z" fill="rgb(246,158,33)"/>
<path d="M853.79,791.50 A64.32,23.30 0 0 0 982.43,791.50 L980.50,903.20 A62.10,41.50 0 0 1 856.30,903.20 Z" fill="rgb(246,158,33)"/>
<path d="M853.82,792.77 A64.30,23.33 0 0 0 982.41,792.77 L980.50,903.20 A62.10,41.50 0 0 1 856.30,903.20 Z" fill="rgb(246,158,33)"/>
<path d="M853.84,794.03 A64.27,23.36 0 0 0 982.39,794.03 L980.50,903.20 A62.10,41.50 0 0 1 856.30,903.20 Z" fill="rgb(247,159,32)"/>
<path d="M853.87,795.30 A64.25,23.39 0 0 0 982.37,795.30 L980.50,903.20 A62.10,41.50 0 0 1 856.30,903.20 Z" fill="rgb(247,159,32)"/>
<path d="M853.90,796.57 A64.22,23.42 0 0 0 982.34,796.57 L980.50,903.20 A62.10,41.50 0 0 1 856.30,903.20 Z" fill="rgb(247,159,32)"/>
<path d="M853.93,797.83 A64.20,23.45 0 0 0 982.32,797.83 L980.50,903.20 A62.10,41.50 0 0 1 856.30,903.20 Z" fill="rgb(247,159,32)"/>
<path d="M853.96,799.10 A64.17,23.48 0 0 0 982.30,799.10 L980.50,903.20 A62.10,41.50 0 0 1 856.30,903.20 Z" fill="rgb(247,159,32)"/>
<path d="M853.99,800.37 A64.14,23.52 0 0 0 982.28,800.37 L980.50,903.20 A62.10,41.50 0 0 1 856.30,903.20 Z" fill="rgb(247,160,32)"/>
<path d="M854.02,801.63 A64.12,23.55 0 0 0 982.26,801.63 L980.50,903.20 A62.10,41.50 0 0 1 856.30,903.20 Z" fill="rgb(247,160,32)"/>
<path d="M854.05,802.90 A64.09,23.58 0 0 0 982.23,802.90 L980.50,903.20 A62.10,41.50 0 0 1 856.30,903.20 Z" fill="rgb(247,160,32)"/>
<path d="M854.08,804.17 A64.07,23.61 0 0 0 982.21,804.17 L980.50,903.20 A62.10,41.50 0 0 1 856.30,903.20 Z" fill="rgb(247,162,32)"/>
<path d="M854.10,805.43 A64.04,23.64 0 0 0 982.19,805.43 L980.50,903.20 A62.10,41.50 0 0 1 856.30,903.20 Z" fill="rgb(248,163,33)"/>
<path d="M854.13,806.70 A64.02,23.67 0 0 0 982.17,806.70 L980.50,903.20 A62.10,41.50 0 0 1 856.30,903.20 Z" fill="rgb(248,165,33)"/>
<path d="M854.16,807.97 A63.99,23.70 0 0 0 982.14,807.97 L980.50,903.20 A62.10,41.50 0 0 1 856.30,903.20 Z" fill="rgb(248,166,33)"/>
<path d="M854.19,809.23 A63.97,23.73 0 0 0 982.12,809.23 L980.50,903.20 A62.10,41.50 0 0 1 856.30,903.20 Z" fill="rgb(248,168,33)"/>
<path d="M854.22,810.50 A63.94,23.76 0 0 0 982.10,810.50 L980.50,903.20 A62.10,41.50 0 0 1 856.30,903.20 Z" fill="rgb(249,169,34)"/>
<path d="M854.25,811.77 A63.91,23.80 0 0 0 982.08,811.77 L980.50,903.20 A62.10,41.50 0 0 1 856.30,903.20 Z" fill="rgb(249,171,34)"/>
<path d="M854.28,813.03 A63.89,23.83 0 0 0 982.06,813.03 L980.50,903.20 A62.10,41.50 0 0 1 856.30,903.20 Z" fill="rgb(249,172,34)"/>
<path d="M854.31,814.30 A63.86,23.86 0 0 0 982.03,814.30 L980.50,903.20 A62.10,41.50 0 0 1 856.30,903.20 Z" fill="rgb(250,174,35)"/>
<path d="M854.34,815.57 A63.84,23.89 0 0 0 982.01,815.57 L980.50,903.20 A62.10,41.50 0 0 1 856.30,903.20 Z" fill="rgb(250,175,35)"/>
<path d="M854.36,816.83 A63.81,23.92 0 0 0 981.99,816.83 L980.50,903.20 A62.10,41.50 0 0 1 856.30,903.20 Z" fill="rgb(250,178,35)"/>
<path d="M854.39,818.10 A63.79,23.95 0 0 0 981.97,818.10 L980.50,903.20 A62.10,41.50 0 0 1 856.30,903.20 Z" fill="rgb(250,182,34)"/>
<path d="M854.42,819.37 A63.76,23.98 0 0 0 981.94,819.37 L980.50,903.20 A62.10,41.50 0 0 1 856.30,903.20 Z" fill="rgb(250,186,34)"/>
<path d="M854.45,820.63 A63.74,24.01 0 0 0 981.92,820.63 L980.50,903.20 A62.10,41.50 0 0 1 856.30,903.20 Z" fill="rgb(250,191,33)"/>
<path d="M854.48,821.90 A63.71,24.04 0 0 0 981.90,821.90 L980.50,903.20 A62.10,41.50 0 0 1 856.30,903.20 Z" fill="rgb(250,195,33)"/>
<path d="M854.51,823.17 A63.68,24.07 0 0 0 981.88,823.17 L980.50,903.20 A62.10,41.50 0 0 1 856.30,903.20 Z" fill="rgb(250,199,32)"/>
<path d="M854.54,824.43 A63.66,24.11 0 0 0 981.86,824.43 L980.50,903.20 A62.10,41.50 0 0 1 856.30,903.20 Z" fill="rgb(250,203,32)"/>
<path d="M854.57,825.70 A63.63,24.14 0 0 0 981.83,825.70 L980.50,903.20 A62.10,41.50 0 0 1 856.30,903.20 Z" fill="rgb(250,207,31)"/>
<path d="M854.60,826.97 A63.61,24.17 0 0 0 981.81,826.97 L980.50,903.20 A62.10,41.50 0 0 1 856.30,903.20 Z" fill="rgb(250,211,31)"/>
<path d="M854.62,828.23 A63.58,24.20 0 0 0 981.79,828.23 L980.50,903.20 A62.10,41.50 0 0 1 856.30,903.20 Z" fill="rgb(250,215,30)"/>
<path d="M854.65,829.50 A63.56,24.23 0 0 0 981.77,829.50 L980.50,903.20 A62.10,41.50 0 0 1 856.30,903.20 Z" fill="rgb(250,218,29)"/>
<path d="M854.68,830.77 A63.53,24.26 0 0 0 981.74,830.77 L980.50,903.20 A62.10,41.50 0 0 1 856.30,903.20 Z" fill="rgb(250,221,29)"/>
<path d="M854.71,832.03 A63.51,24.29 0 0 0 981.72,832.03 L980.50,903.20 A62.10,41.50 0 0 1 856.30,903.20 Z" fill="rgb(251,225,28)"/>
<path d="M854.74,833.30 A63.48,24.32 0 0 0 981.70,833.30 L980.50,903.20 A62.10,41.50 0 0 1 856.30,903.20 Z" fill="rgb(251,228,28)"/>
<path d="M854.77,834.57 A63.45,24.35 0 0 0 981.68,834.57 L980.50,903.20 A62.10,41.50 0 0 1 856.30,903.20 Z" fill="rgb(251,231,27)"/>
<path d="M854.80,835.83 A63.43,24.39 0 0 0 981.66,835.83 L980.50,903.20 A62.10,41.50 0 0 1 856.30,903.20 Z" fill="rgb(251,234,27)"/>
<path d="M854.83,837.10 A63.40,24.42 0 0 0 981.63,837.10 L980.50,903.20 A62.10,41.50 0 0 1 856.30,903.20 Z" fill="rgb(251,237,26)"/>
<path d="M854.86,838.37 A63.38,24.45 0 0 0 981.61,838.37 L980.50,903.20 A62.10,41.50 0 0 1 856.30,903.20 Z" fill="rgb(252,240,26)"/>
<path d="M854.88,839.63 A63.35,24.48 0 0 0 981.59,839.63 L980.50,903.20 A62.10,41.50 0 0 1 856.30,903.20 Z" fill="rgb(252,244,25)"/>
<path d="M854.91,840.90 A63.33,24.51 0 0 0 981.57,840.90 L980.50,903.20 A62.10,41.50 0 0 1 856.30,903.20 Z" fill="rgb(252,245,25)"/>
<path d="M854.94,842.17 A63.30,24.54 0 0 0 981.54,842.17 L980.50,903.20 A62.10,41.50 0 0 1 856.30,903.20 Z" fill="rgb(252,245,25)"/>
<path d="M854.97,843.43 A63.28,24.57 0 0 0 981.52,843.43 L980.50,903.20 A62.10,41.50 0 0 1 856.30,903.20 Z" fill="rgb(252,245,25)"/>
<path d="M855.00,844.70 A63.25,24.60 0 0 0 981.50,844.70 L980.50,903.20 A62.10,41.50 0 0 1 856.30,903.20 Z" fill="rgb(252,245,25)"/>
<path d="M855.03,845.97 A63.22,24.63 0 0 0 981.48,845.97 L980.50,903.20 A62.10,41.50 0 0 1 856.30,903.20 Z" fill="rgb(252,246,25)"/>
<path d="M855.06,847.23 A63.20,24.66 0 0 0 981.46,847.23 L980.50,903.20 A62.10,41.50 0 0 1 856.30,903.20 Z" fill="rgb(252,246,25)"/>
<path d="M855.09,848.50 A63.17,24.70 0 0 0 981.43,848.50 L980.50,903.20 A62.10,41.50 0 0 1 856.30,903.20 Z" fill="rgb(252,246,25)"/>
<path d="M855.12,849.77 A63.15,24.73 0 0 0 981.41,849.77 L980.50,903.20 A62.10,41.50 0 0 1 856.30,903.20 Z" fill="rgb(252,246,25)"/>
<path d="M855.14,851.03 A63.12,24.76 0 0 0 981.39,851.03 L980.50,903.20 A62.10,41.50 0 0 1 856.30,903.20 Z" fill="rgb(252,246,25)"/>
<path d="M855.17,852.30 A63.10,24.79 0 0 0 981.37,852.30 L980.50,903.20 A62.10,41.50 0 0 1 856.30,903.20 Z" fill="rgb(252,246,25)"/>
<path d="M855.20,853.57 A63.07,24.82 0 0 0 981.34,853.57 L980.50,903.20 A62.10,41.50 0 0 1 856.30,903.20 Z" fill="rgb(252,246,25)"/>
<path d="M855.23,854.83 A63.05,24.85 0 0 0 981.32,854.83 L980.50,903.20 A62.10,41.50 0 0 1 856.30,903.20 Z" fill="rgb(252,246,25)"/>
<path d="M855.26,856.10 A63.02,24.88 0 0 0 981.30,856.10 L980.50,903.20 A62.10,41.50 0 0 1 856.30,903.20 Z" fill="rgb(252,246,25)"/>
<path d="M855.29,857.37 A62.99,24.91 0 0 0 981.28,857.37 L980.50,903.20 A62.10,41.50 0 0 1 856.30,903.20 Z" fill="rgb(252,247,25)"/>
<path d="M855.32,858.63 A62.97,24.94 0 0 0 981.26,858.63 L980.50,903.20 A62.10,41.50 0 0 1 856.30,903.20 Z" fill="rgb(252,247,25)"/>
<path d="M855.35,859.90 A62.94,24.98 0 0 0 981.23,859.90 L980.50,903.20 A62.10,41.50 0 0 1 856.30,903.20 Z" fill="rgb(252,247,25)"/>
<path d="M855.38,861.17 A62.92,25.01 0 0 0 981.21,861.17 L980.50,903.20 A62.10,41.50 0 0 1 856.30,903.20 Z" fill="rgb(252,247,25)"/>
<path d="M855.40,862.43 A62.89,25.04 0 0 0 981.19,862.43 L980.50,903.20 A62.10,41.50 0 0 1 856.30,903.20 Z" fill="rgb(252,247,25)"/>
<path d="M855.43,863.70 A62.87,25.07 0 0 0 981.17,863.70 L980.50,903.20 A62.10,41.50 0 0 1 856.30,903.20 Z" fill="rgb(252,247,25)"/>
<path d="M855.46,864.97 A62.84,25.10 0 0 0 981.14,864.97 L980.50,903.20 A62.10,41.50 0 0 1 856.30,903.20 Z" fill="rgb(252,247,25)"/>
<path d="M855.49,866.23 A62.82,25.13 0 0 0 981.12,866.23 L980.50,903.20 A62.10,41.50 0 0 1 856.30,903.20 Z" fill="rgb(252,247,25)"/>
<path d="M855.52,867.50 A62.79,25.16 0 0 0 981.10,867.50 L980.50,903.20 A62.10,41.50 0 0 1 856.30,903.20 Z" fill="rgb(252,248,25)"/>
<path d="M855.55,868.77 A62.76,25.19 0 0 0 981.08,868.77 L980.50,903.20 A62.10,41.50 0 0 1 856.30,903.20 Z" fill="rgb(252,248,25)"/>
<path d="M855.58,870.03 A62.74,25.22 0 0 0 981.06,870.03 L980.50,903.20 A62.10,41.50 0 0 1 856.30,903.20 Z" fill="rgb(252,248,25)"/>
<path d="M855.61,871.30 A62.71,25.25 0 0 0 981.03,871.30 L980.50,903.20 A62.10,41.50 0 0 1 856.30,903.20 Z" fill="rgb(252,248,25)"/>
<path d="M855.64,872.57 A62.69,25.29 0 0 0 981.01,872.57 L980.50,903.20 A62.10,41.50 0 0 1 856.30,903.20 Z" fill="rgb(252,248,25)"/>
<path d="M855.66,873.83 A62.66,25.32 0 0 0 980.99,873.83 L980.50,903.20 A62.10,41.50 0 0 1 856.30,903.20 Z" fill="rgb(252,248,25)"/>
<path d="M855.69,875.10 A62.64,25.35 0 0 0 980.97,875.10 L980.50,903.20 A62.10,41.50 0 0 1 856.30,903.20 Z" fill="rgb(252,248,25)"/>
<path d="M855.72,876.37 A62.61,25.38 0 0 0 980.94,876.37 L980.50,903.20 A62.10,41.50 0 0 1 856.30,903.20 Z" fill="rgb(252,248,25)"/>
<path d="M855.75,877.63 A62.59,25.41 0 0 0 980.92,877.63 L980.50,903.20 A62.10,41.50 0 0 1 856.30,903.20 Z" fill="rgb(252,248,25)"/>
<path d="M855.78,878.90 A62.56,25.44 0 0 0 980.90,878.90 L980.50,903.20 A62.10,41.50 0 0 1 856.30,903.20 Z" fill="rgb(252,249,24)"/>
<path d="M855.81,880.17 A62.53,25.47 0 0 0 980.88,880.17 L980.50,903.20 A62.10,41.50 0 0 1 856.30,903.20 Z" fill="rgb(252,249,24)"/>
<path d="M855.84,881.43 A62.51,25.50 0 0 0 980.86,881.43 L980.50,903.20 A62.10,41.50 0 0 1 856.30,903.20 Z" fill="rgb(252,249,24)"/>
<path d="M855.87,882.70 A62.48,25.53 0 0 0 980.83,882.70 L980.50,903.20 A62.10,41.50 0 0 1 856.30,903.20 Z" fill="rgb(252,249,24)"/>
<path d="M855.90,883.97 A62.46,25.57 0 0 0 980.81,883.97 L980.50,903.20 A62.10,41.50 0 0 1 856.30,903.20 Z" fill="rgb(252,249,24)"/>
<path d="M855.92,885.23 A62.43,25.60 0 0 0 980.79,885.23 L980.50,903.20 A62.10,41.50 0 0 1 856.30,903.20 Z" fill="rgb(252,249,24)"/>
<path d="M855.95,886.50 A62.41,25.63 0 0 0 980.77,886.50 L980.50,903.20 A62.10,41.50 0 0 1 856.30,903.20 Z" fill="rgb(252,249,24)"/>
<path d="M855.98,887.77 A62.38,25.66 0 0 0 980.74,887.77 L980.50,903.20 A62.10,41.50 0 0 1 856.30,903.20 Z" fill="rgb(252,249,24)"/>
<path d="M856.01,889.03 A62.36,25.69 0 0 0 980.72,889.03 L980.50,903.20 A62.10,41.50 0 0 1 856.30,903.20 Z" fill="rgb(252,250,24)"/>
<path d="M856.04,890.30 A62.33,25.72 0 0 0 980.70,890.30 L980.50,903.20 A62.10,41.50 0 0 1 856.30,903.20 Z" fill="rgb(252,250,24)"/>
<path d="M856.07,891.57 A62.30,25.75 0 0 0 980.68,891.57 L980.50,903.20 A62.10,41.50 0 0 1 856.30,903.20 Z" fill="rgb(252,250,24)"/>
<path d="M856.10,892.83 A62.28,25.78 0 0 0 980.66,892.83 L980.50,903.20 A62.10,41.50 0 0 1 856.30,903.20 Z" fill="rgb(252,250,24)"/>
<path d="M856.13,894.10 A62.25,25.81 0 0 0 980.63,894.10 L980.50,903.20 A62.10,41.50 0 0 1 856.30,903.20 Z" fill="rgb(252,250,24)"/>
<path d="M856.16,895.37 A62.23,25.84 0 0 0 980.61,895.37 L980.50,903.20 A62.10,41.50 0 0 1 856.30,903.20 Z" fill="rgb(252,250,24)"/>
<path d="M856.18,896.63 A62.20,25.88 0 0 0 980.59,896.63 L980.50,903.20 A62.10,41.50 0 0 1 856.30,903.20 Z" fill="rgb(252,250,24)"/>
<path d="M856.21,897.90 A62.18,25.91 0 0 0 980.57,897.90 L980.50,903.20 A62.10,41.50 0 0 1 856.30,903.20 Z" fill="rgb(252,250,24)"/>
<path d="M856.24,899.17 A62.15,25.94 0 0 0 980.54,899.17 L980.50,903.20 A62.10,41.50 0 0 1 856.30,903.20 Z" fill="rgb(252,250,24)"/>
<path d="M856.27,900.43 A62.13,25.97 0 0 0 980.52,900.43 L980.50,903.20 A62.10,41.50 0 0 1 856.30,903.20 Z" fill="rgb(252,251,24)"/>
<path d="M856.30,901.70 A62.10,26.00 0 0 0 980.50,901.70 L980.50,903.20 A62.10,41.50 0 0 1 856.30,903.20 Z" fill="rgb(252,251,24)"/>
</g>
<path d="M855.2,787.7 L857.8,901.7 A60.6,40.0 0 0 0 979.0,901.7 L981.0,787.7 A62.9,35.7 0 0 1 855.2,787.7 Z" fill="url(#shd)"/>
<path d="M857.8,901.7 A60.6,40.0 0 0 0 979.0,901.7" fill="none" stroke="#111" stroke-width="1.4"/>
<ellipse cx="918.1" cy="787.7" rx="62.9" ry="35.7" fill="#c27a22" stroke="#111" stroke-width="1.6"/>
<line x1="699.8" y1="587.5" x2="923.1" y2="505.5" stroke="#000" stroke-width="2.40" stroke-linecap="round"/>
<line x1="923.1" y1="505.5" x2="1140.3" y2="588.7" stroke="#000" stroke-width="2.40" stroke-linecap="round"/>
<line x1="699.8" y1="587.5" x2="912.9" y2="698.0" stroke="#000" stroke-width="2.40" stroke-linecap="round"/>
<line x1="1140.3" y1="588.7" x2="912.9" y2="698.0" stroke="#000" stroke-width="2.40" stroke-linecap="round"/>
<line x1="699.8" y1="587.5" x2="725.4" y2="836.7" stroke="#000" stroke-width="2.40" stroke-linecap="round"/>
<line x1="912.9" y1="698.0" x2="915.5" y2="972.8" stroke="#000" stroke-width="2.40" stroke-linecap="round"/>
<line x1="725.4" y1="836.7" x2="915.5" y2="972.8" stroke="#000" stroke-width="2.80" stroke-linecap="round"/>
<line x1="915.5" y1="972.8" x2="1117.6" y2="840.2" stroke="#000" stroke-width="2.80" stroke-linecap="round"/>
<line x1="1140.3" y1="588.7" x2="1117.6" y2="840.2" stroke="#000" stroke-width="4.00" stroke-linecap="round"/>
<line x1="1117.6" y1="840.2" x2="1111.0" y2="836.6" stroke="#000" stroke-width="2.30" stroke-linecap="round"/>
<line x1="1118.6" y1="829.0" x2="1114.6" y2="826.9" stroke="#000" stroke-width="2.30" stroke-linecap="round"/>
<line x1="1119.6" y1="817.7" x2="1113.0" y2="814.2" stroke="#000" stroke-width="2.30" stroke-linecap="round"/>
<line x1="1120.7" y1="806.3" x2="1116.6" y2="804.2" stroke="#000" stroke-width="2.30" stroke-linecap="round"/>
<line x1="1121.7" y1="794.7" x2="1115.0" y2="791.3" stroke="#000" stroke-width="2.30" stroke-linecap="round"/>
<line x1="1122.8" y1="783.0" x2="1118.7" y2="780.9" stroke="#000" stroke-width="2.30" stroke-linecap="round"/>
<line x1="1123.8" y1="771.2" x2="1117.1" y2="767.8" stroke="#000" stroke-width="2.30" stroke-linecap="round"/>
<line x1="1124.9" y1="759.2" x2="1120.8" y2="757.1" stroke="#000" stroke-width="2.30" stroke-linecap="round"/>
<line x1="1126.0" y1="747.0" x2="1119.3" y2="743.7" stroke="#000" stroke-width="2.30" stroke-linecap="round"/>
<line x1="1127.1" y1="734.7" x2="1123.0" y2="732.7" stroke="#000" stroke-width="2.30" stroke-linecap="round"/>
<line x1="1128.2" y1="722.3" x2="1121.5" y2="719.1" stroke="#000" stroke-width="2.30" stroke-linecap="round"/>
<line x1="1129.4" y1="709.7" x2="1125.2" y2="707.7" stroke="#000" stroke-width="2.30" stroke-linecap="round"/>
<line x1="1130.5" y1="696.9" x2="1123.7" y2="693.8" stroke="#000" stroke-width="2.30" stroke-linecap="round"/>
<line x1="1131.7" y1="684.0" x2="1127.5" y2="682.1" stroke="#000" stroke-width="2.30" stroke-linecap="round"/>
<line x1="1132.9" y1="670.9" x2="1126.0" y2="667.9" stroke="#000" stroke-width="2.30" stroke-linecap="round"/>
<line x1="1134.1" y1="657.6" x2="1129.8" y2="655.8" stroke="#000" stroke-width="2.30" stroke-linecap="round"/>
<line x1="1135.3" y1="644.2" x2="1128.4" y2="641.3" stroke="#000" stroke-width="2.30" stroke-linecap="round"/>
<line x1="1136.5" y1="630.6" x2="1132.3" y2="628.8" stroke="#000" stroke-width="2.30" stroke-linecap="round"/>
<line x1="1137.8" y1="616.8" x2="1130.8" y2="614.0" stroke="#000" stroke-width="2.30" stroke-linecap="round"/>
<line x1="1139.0" y1="602.8" x2="1134.7" y2="601.2" stroke="#000" stroke-width="2.30" stroke-linecap="round"/>
<line x1="1140.3" y1="588.7" x2="1133.3" y2="586.0" stroke="#000" stroke-width="2.30" stroke-linecap="round"/>
<line x1="768.0" y1="867.2" x2="773.7" y2="864.1" stroke="#000" stroke-width="2.00" stroke-linecap="round"/>
<line x1="813.6" y1="899.9" x2="819.4" y2="896.6" stroke="#000" stroke-width="2.00" stroke-linecap="round"/>
<line x1="862.7" y1="935.0" x2="868.4" y2="931.5" stroke="#000" stroke-width="2.00" stroke-linecap="round"/>
<text x="960.0" y="638.6" class="vl">52.75</text>
<text x="982.0" y="812.6" class="vl">47.25</text>
<text transform="matrix(0.996,0.392,-0.190,0.980,1121.9,850.5)" class="al">0</text>
<text transform="matrix(0.996,0.392,-0.190,0.980,1123.9,828.0)" class="al">10</text>
<text transform="matrix(0.996,0.392,-0.190,0.980,1126.0,805.0)" class="al">20</text>
<text transform="matrix(0.996,0.392,-0.190,0.980,1128.1,781.5)" class="al">30</text>
<text transform="matrix(0.996,0.392,-0.190,0.980,1130.3,757.3)" class="al">40</text>
<text transform="matrix(0.996,0.392,-0.190,0.980,1132.5,732.6)" class="al">50</text>
<text transform="matrix(0.996,0.392,-0.190,0.980,1134.8,707.2)" class="al">60</text>
<text transform="matrix(0.996,0.392,-0.190,0.980,1137.2,681.2)" class="al">70</text>
<text transform="matrix(0.996,0.392,-0.190,0.980,1139.6,654.5)" class="al">80</text>
<text transform="matrix(0.996,0.392,-0.190,0.980,1142.1,627.1)" class="al">90</text>
<text transform="matrix(0.996,0.392,-0.190,0.980,1144.6,599.0)" class="al">100</text>
<text transform="translate(1180.1,741.0) rotate(-83) scale(1,0.84)" text-anchor="middle" class="at">Storage Contribition (%)</text>
<text transform="matrix(0.879,-0.477,0.705,0.591,733.5,893.0)" text-anchor="middle" class="cl" style="font-size:20.0px">Diffusive</text>
<text transform="matrix(0.862,-0.508,0.705,0.591,820.5,970.0)" text-anchor="middle" class="cl" style="font-size:21.8px">Capacitive</text>
<text x="619.0" y="533.0" class="pl2">(d)</text>
</svg>
</body></html>
